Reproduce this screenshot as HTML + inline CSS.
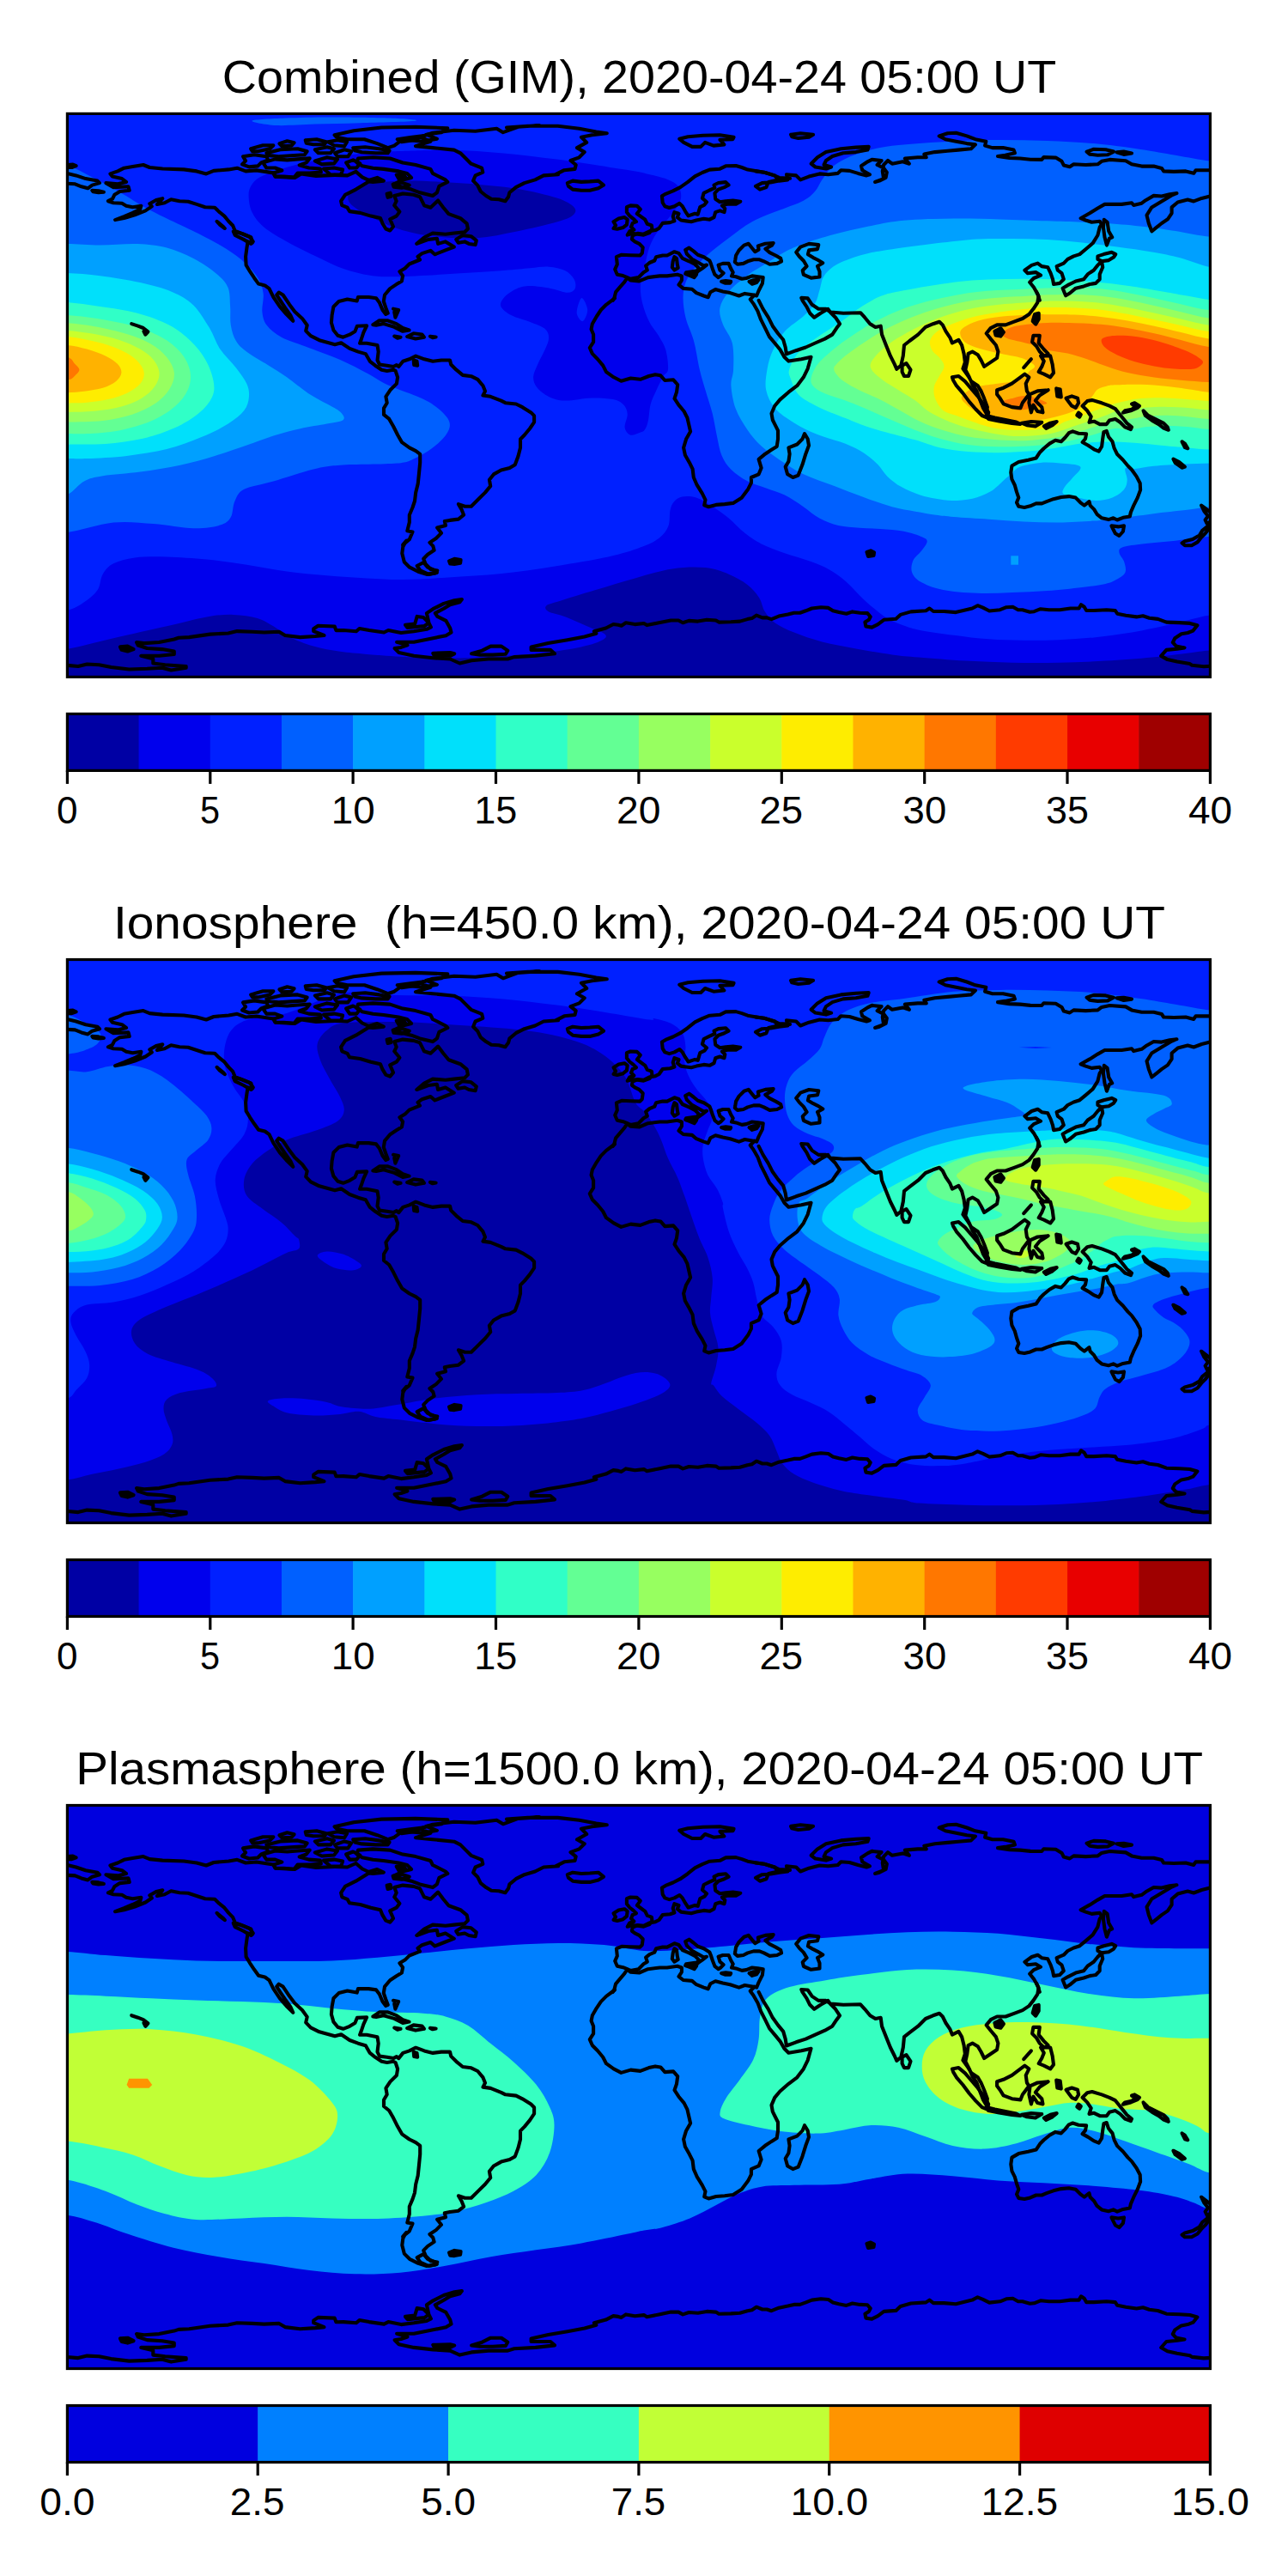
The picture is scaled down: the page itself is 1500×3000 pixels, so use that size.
<!DOCTYPE html>
<html><head><meta charset="utf-8"><title>TEC maps</title>
<style>
html,body{margin:0;padding:0;background:#fff;}
body{width:1500px;height:3000px;overflow:hidden;font-family:"Liberation Sans",sans-serif;}
svg{display:block;}
text{font-family:"Liberation Sans",sans-serif;fill:#000;}
.cl{fill:none;stroke:#000;stroke-width:4.1;stroke-linejoin:round;stroke-linecap:round;}
.fr{fill:none;stroke:#000;stroke-width:3.2;stroke-linejoin:miter;}
.tk{stroke:#000;stroke-width:3.2;}
</style></head><body>
<svg width="1500" height="3000" viewBox="0 0 1500 3000">
<rect width="1500" height="3000" fill="#fff"/>
<defs>
<clipPath id="mc"><rect x="78.4" y="0" width="1331.0" height="656.0"/></clipPath>
<g id="coast" class="cl">

<path d="M390.0 71.5 L368.1 72.5 L350.7 70.0 L343.3 74.5 L320.9 73.2 L318.4 69.0 L298.6 66.0 L286.1 67.0 L276.2 63.3 L266.3 65.0 L248.9 66.5 L240.2 70.0 L229.0 67.0 L214.1 65.0 L189.3 64.1 L174.3 62.6 L166.9 59.6 L154.5 61.6 L144.5 63.3 L137.1 67.0 L128.4 70.0 L130.9 73.2 L142.0 75.7 L147.0 79.5 L137.1 81.9 L123.4 80.7 L132.1 85.7 L149.5 84.9 L150.7 89.4 L139.6 90.6 L133.4 94.4 L130.9 99.3 L125.9 101.8 L132.1 103.8 L142.0 104.3 L147.0 107.3 L154.5 108.8 L164.4 107.3 L163.2 111.3 L154.5 115.5 L144.5 119.7 L134.1 123.7 L144.5 121.7 L157.0 118.0 L169.4 113.0 L176.8 108.0 L174.3 104.8 L181.8 100.6 L189.3 98.8 L183.0 105.5 L191.7 103.8 L199.2 99.8 L209.1 101.8 L219.1 102.3 L229.0 105.5 L238.9 108.8 L250.1 109.3 L255.1 114.2 L261.3 119.2 L266.3 125.4 L271.2 130.4 L273.7 136.6 L283.7 140.3 L292.4 144.1 L293.6 150.3 L288.6 149.0 L287.4 156.5 L286.1 166.4 L286.6 176.4 L291.1 183.8 L296.1 191.3 L301.1 198.2 L308.5 200.0 L313.5 203.7 L318.4 213.6 L325.9 224.8 L333.4 233.5 L341.3 241.4 L338.3 234.7 L332.1 226.0 L327.1 218.6 L322.2 211.1 L324.7 208.2 L329.6 211.1 L337.1 222.3 L343.3 230.5 L352.0 238.5 L357.7 246.4 L356.2 252.9 L361.9 258.8 L371.9 263.8 L390.0 268.8 L397.3 266.8 L407.2 273.5 L417.1 277.2 L425.8 279.7 L430.8 288.4 L437.0 293.3 L444.5 298.3 L450.7 299.5 L458.1 298.3 L460.6 299.5 L463.1 307.0 L461.9 314.5 L454.4 321.9 L449.4 329.4 L450.7 336.8 L447.0 343.0 L447.0 350.5 L453.2 355.5 L458.1 364.1 L463.1 374.1 L468.1 382.8 L476.8 389.0 L484.2 392.7 L489.2 396.4 L489.2 406.4 L488.0 418.8 L486.7 431.2 L484.2 441.2 L483.0 451.1 L480.5 458.6 L476.8 467.3 L476.8 475.9 L474.3 485.9 L480.5 487.1 L476.8 495.8 L469.3 502.0 L473.3 497.3 L470.1 502.7"/>
<path d="M78.4 59.6 L84.9 59.1 L88.6 60.8 L83.7 62.6 L78.4 62.6"/>
<path d="M78.4 69.5 L88.6 72.0 L99.8 75.7 L113.5 78.2 L116.0 80.7 L107.3 83.2 L102.3 86.9 L94.8 84.9 L87.4 81.9 L78.4 81.4"/>
<path d="M107.3 89.4 L114.7 89.9 L120.9 91.4 L114.7 91.9 L108.5 90.9 Z" style="fill:#000"/>
<path d="M252.6 125.4 L260.1 131.6 L261.8 133.6 L255.8 129.1 Z" style="fill:#000"/>
<path d="M271.7 137.1 L281.2 139.6 L291.1 143.6 L294.8 149.0 L292.4 151.5 L283.7 146.5 L273.7 141.6 Z"/>
<path d="M153.2 244.7 L160.7 247.2 L166.9 249.6 L172.4 253.9 L169.4 257.3 L167.4 253.4"/>
<path d="M389.9 71.5 L404.5 72.0 L414.5 67.5 L421.9 74.0 L429.4 77.5 L439.3 74.5 L446.8 78.2 L434.3 79.5 L429.4 79.0 L414.5 88.2 L402.0 94.4 L397.1 101.8 L398.3 106.8 L404.5 109.3 L407.0 113.7 L419.4 115.5 L431.9 119.2 L443.0 121.7 L445.5 127.9 L449.3 134.1 L454.2 136.1 L458.0 131.6 L454.2 122.9 L461.7 119.2 L465.4 114.2 L459.2 106.8 L461.7 101.8 L459.2 95.6 L469.1 93.1 L481.6 94.4 L489.0 96.8 L494.0 106.8 L501.4 109.3 L510.1 101.1 L516.3 109.3 L522.5 116.7 L536.2 121.7 L543.7 127.9 L544.9 134.1 L541.2 137.8 L528.8 139.1 L518.8 140.3 L503.9 139.1 L494.0 144.1 L485.3 151.5 L498.9 146.5 L508.9 145.3 L510.1 151.5 L518.8 149.0 L528.8 155.2 L518.8 159.0 L506.4 163.9 L501.4 159.5 L491.5 162.7 L486.5 166.4 L489.0 170.1 L476.6 175.1 L471.6 180.1 L465.4 183.8 L469.1 188.8 L467.9 195.0 L461.7 198.7 L454.2 203.7 L448.0 211.1 L446.8 218.6 L449.3 226.0 L451.7 232.3 L449.3 233.5 L445.5 228.5 L441.8 219.8 L438.1 214.9 L429.4 213.6 L417.0 213.6 L415.7 218.1 L404.5 216.1 L394.6 218.6 L388.4 224.8 L386.6 234.7 L385.9 243.4 L388.4 252.1 L393.4 258.3 L399.6 260.3 L407.2 257.3 L413.4 253.6 L415.9 247.4 L427.1 246.9 L423.4 254.8 L420.9 262.3 L419.1 267.3 L427.1 267.3 L439.5 269.7 L440.7 277.2 L439.5 287.1 L442.0 292.1 L450.7 293.3 L458.1 294.6 L461.9 292.6 L464.3 294.6 L469.3 288.4 L476.8 285.9 L484.2 282.2 L494.2 285.9 L504.1 288.4 L514.0 287.1 L524.0 287.1 L525.2 292.1 L531.4 298.3 L538.9 304.5 L548.8 305.8 L556.3 309.5 L562.5 316.9 L565.0 323.2 L562.5 328.1 L571.2 329.4 L583.6 334.3 L588.6 336.8 L601.0 338.1 L608.4 341.8 L618.4 348.0 L622.1 351.7 L622.1 359.2 L617.1 366.6 L610.9 374.1 L606.0 379.1 L606.0 389.0 L603.5 398.9 L599.8 408.9 L593.5 412.6 L583.6 415.1 L574.9 420.0 L569.9 426.3 L571.2 433.7 L565.0 441.2 L557.5 448.6 L548.8 457.3 L541.4 457.3 L533.9 454.8 L537.6 461.0 L540.1 467.3 L533.9 472.2 L524.0 473.5 L517.8 474.7 L519.0 479.7 L509.1 482.2 L514.0 488.4 L507.8 494.6 L500.4 499.5 L504.3 503.5 L505.6 508.4 L498.1 513.4 L493.2 518.4 L495.7 524.6 L501.9 530.8 L509.3 532.0 L506.8 535.0 L496.9 536.5 L487.0 533.3 L477.0 528.3 L470.8 522.1 L468.3 512.2 L469.6 502.2"/>
<path d="M531.2 146.5 L538.7 141.6 L548.6 142.8 L554.8 147.8 L553.6 152.7 L546.1 151.5 L541.2 149.0 L533.7 150.3 Z"/>
<path d="M434.3 245.9 L441.8 240.9 L451.7 240.9 L461.7 244.7 L469.1 249.6 L476.6 252.1 L469.1 253.4 L459.2 248.4 L446.8 244.7 L438.1 246.4 Z"/>
<path d="M474.1 259.6 L481.6 255.9 L491.5 257.1 L494.0 260.3 L484.0 262.1 Z"/>
<path d="M459.2 259.1 L466.6 260.3 L462.9 261.3 Z" style="fill:#000"/>
<path d="M500.9 259.3 L507.6 260.1 L503.9 260.8 Z" style="fill:#000"/>
<path d="M458.0 227.3 L464.2 228.5 L460.4 237.2 L459.2 231.0"/>
<path d="M389.6 24.8 L412.0 19.8 L444.3 16.1 L484.0 15.4 L521.3 16.8 L513.9 21.8 L496.5 24.3 L508.9 29.3 L491.5 32.3 L469.1 29.8 L459.2 37.2 L451.7 39.7 L439.3 34.7 L424.4 29.8 L404.5 29.8 L392.1 27.3 Z"/>
<path d="M417.0 52.1 L434.3 50.9 L454.2 52.1 L469.1 57.1 L484.0 59.6 L501.4 64.5 L503.9 69.5 L518.8 77.0 L521.3 79.5 L511.4 84.4 L508.9 91.9 L503.9 95.6 L489.0 91.9 L479.1 88.2 L469.1 85.7 L459.2 81.9 L469.1 77.0 L479.1 74.5 L474.1 69.5 L464.2 67.0 L446.8 64.5 L434.3 63.3 L421.9 60.8 L415.7 57.1 Z"/>
<path d="M706.8 22.8 L694.3 21.1 L674.5 17.3 L649.6 14.4 L614.8 14.4 L590.0 16.1 L628.1 13.6 L603.3 15.4 L585.9 21.8 L578.4 17.3 L553.6 20.3 L528.8 19.3 L503.9 22.3 L489.0 27.3 L501.4 32.3 L484.0 37.7 L503.9 39.7 L528.8 42.2 L536.2 45.9 L543.7 53.4 L548.6 58.3 L561.1 63.3 L562.3 68.3 L553.6 72.0 L551.1 78.2 L556.1 83.2 L559.8 90.6 L566.0 95.6 L572.2 99.3 L580.9 99.8 L588.4 101.8 L592.1 96.8 L593.4 91.9 L600.8 85.7 L610.7 80.7 L623.2 77.0 L633.1 72.0 L650.0 70.8 L647.1 70.8 L657.1 65.8 L669.5 64.5 L670.7 59.6 L664.5 54.6 L674.5 50.9 L680.7 44.7 L672.0 39.7 L683.2 33.5 L677.0 27.3 L689.4 24.8 Z"/>
<path d="M660.8 80.7 L667.0 78.2 L677.0 79.5 L686.9 79.0 L696.8 78.2 L703.0 83.2 L696.8 86.9 L686.9 89.4 L677.0 89.4 L667.0 88.2 L662.0 84.4 Z"/>
<path d="M791.2 29.3 L801.2 26.8 L818.6 25.3 L838.4 24.8 L854.6 27.3 L853.4 29.8 L838.4 30.3 L843.4 36.0 L831.0 37.2 L821.1 33.5 L816.1 38.5 L806.1 38.5 L796.2 33.5 Z"/>
<path d="M920.0 75.4 L907.5 74.6 L901.6 72.0 L891.3 68.6 L881.1 66.9 L870.8 65.2 L864.0 62.6 L857.1 60.6 L845.2 60.9 L838.4 64.3 L826.4 65.2 L817.9 68.6 L809.3 72.9 L800.8 79.7 L792.2 85.7 L783.7 90.0 L775.2 93.4 L770.9 95.9 L771.7 103.6 L774.3 107.9 L779.4 109.6 L785.4 107.9 L791.4 104.5 L794.8 107.9 L798.2 113.9 L801.6 119.0 L809.3 116.4 L812.7 117.3 L815.3 108.7 L820.4 106.2 L823.0 102.8 L817.9 98.5 L819.6 92.5 L826.4 89.1 L832.4 86.5 L831.5 83.1 L836.6 80.6 L845.2 79.7 L848.6 83.1 L843.5 85.7 L836.6 88.2 L832.4 92.5 L833.2 99.3 L838.4 102.8 L845.2 101.9 L853.7 101.1 L862.3 102.3 L857.1 105.3 L846.9 105.3 L840.9 107.0 L844.3 110.5 L843.5 114.7 L838.4 113.0 L833.2 114.7 L831.5 120.7 L826.4 123.3 L819.6 122.4 L811.0 124.1 L805.0 125.8 L799.1 125.0 L793.1 124.1 L788.8 120.7 L790.5 116.4 L785.4 114.7 L783.7 119.8 L785.4 125.0 L780.3 126.7 L771.7 127.5 L767.5 133.5 L763.2 135.7 L756.4 136.9 L749.5 140.3 L742.7 139.5 L736.7 142.0 L735.9 146.3 L739.3 148.9 L744.4 151.4 L748.7 155.7 L747.8 162.5 L745.3 165.1 L734.2 164.8 L723.9 164.3 L717.9 166.8 L718.8 175.4 L716.2 181.3 L718.8 187.3 L725.6 188.7 L729.9 190.4 L734.2 192.4 L743.6 190.7 L749.5 184.8 L753.8 182.2 L752.1 177.1 L756.4 173.6 L762.3 171.1 L764.1 166.8 L771.7 165.1 L776.9 165.1 L785.4 160.8 L790.5 162.5 L794.8 168.5 L802.5 171.9 L809.3 175.4 L813.6 179.6 L811.9 184.2 L817.9 180.1 L823.0 176.2 L819.6 177.1 L813.6 173.6 L805.9 169.4 L799.9 163.4 L798.2 158.6 L802.5 156.2 L807.6 160.0 L812.7 164.3 L819.6 166.8 L826.4 171.1 L827.8 174.5 L829.8 180.5 L832.4 187.3 L836.6 190.7 L839.2 189.0 L842.6 185.6 L838.4 182.2 L836.6 176.2 L841.8 174.5 L848.6 174.5 L851.2 180.5 L853.7 184.8 L852.0 189.0 L857.1 189.9 L864.0 192.4 L869.1 191.6 L875.9 189.0 L882.8 189.9 L888.7 190.7 L887.9 197.6 L883.6 206.1 L881.1 212.1 L877.6 211.2 L867.4 209.5 L860.6 212.1 L850.3 208.7 L841.8 207.0 L833.2 204.7 L827.3 207.8 L824.7 213.8 L819.6 212.1 L811.0 208.7 L805.9 204.4 L795.7 203.5 L790.5 199.3 L793.9 194.1 L793.9 189.0 L788.8 187.3 L776.9 189.0 L768.3 189.0 L754.7 190.7 L744.4 195.0 L734.2 194.1 L730.4 191.1 L727.3 195.9 L722.2 201.8 L717.1 207.8 L715.4 214.6 L713.7 217.5"/>
<path d="M729.9 108.7 L734.2 107.0 L741.8 107.4 L745.8 111.3 L741.8 116.4 L745.3 119.0 L751.2 123.3 L753.8 128.4 L758.9 130.1 L759.4 134.4 L756.4 138.6 L749.5 141.2 L742.7 140.3 L736.7 139.5 L730.7 141.2 L733.3 136.9 L738.4 135.2 L735.0 131.8 L736.7 127.5 L741.0 125.8 L737.6 122.4 L733.3 119.0 L729.9 114.7 Z"/>
<path d="M714.5 125.8 L720.5 122.1 L727.3 120.7 L730.7 123.3 L729.9 129.2 L725.6 132.7 L718.8 134.4 L714.5 133.5 L717.1 130.1 Z"/>
<path d="M799.1 184.8 L805.9 183.9 L811.9 183.0 L811.0 187.3 L808.5 190.7 L802.5 188.2 L798.2 186.5 Z" style="fill:#000"/>
<path d="M785.4 166.8 L788.0 168.5 L788.8 175.4 L789.7 179.6 L785.4 182.2 L782.8 178.8 L783.7 171.9 Z"/>
<path d="M840.1 195.5 L845.2 194.7 L851.2 195.5 L850.3 197.2 L844.3 197.2 Z" style="fill:#000"/>
<path d="M872.5 195.5 L877.6 193.8 L883.6 193.3 L881.1 196.7 L875.9 198.4 Z" style="fill:#000"/>
<path d="M856.3 170.2 L857.1 165.1 L860.6 159.1 L866.5 153.2 L871.7 151.4 L875.9 156.6 L879.3 160.8 L883.6 158.3 L882.8 154.0 L891.3 151.4 L900.7 150.6 L899.0 153.2 L891.3 157.4 L896.4 161.7 L903.3 165.1 L909.2 168.5 L910.1 171.9 L905.0 174.5 L896.4 175.4 L889.6 171.9 L884.5 169.9 L877.6 169.9 L870.8 171.9 L865.7 174.5 L858.9 175.4 L855.8 172.8 Z"/>
<path d="M921.0 24.3 L932.2 22.8 L947.1 24.3 L942.1 27.3 L929.7 28.5 L922.2 26.8 Z"/>
<path d="M944.6 58.3 L952.0 50.9 L962.0 44.7 L979.4 40.9 L996.8 39.2 L1011.7 38.5 L1010.4 42.2 L996.8 44.7 L981.9 45.9 L969.4 49.6 L962.0 54.6 L959.5 59.6 L968.2 62.1 L962.0 64.1 L949.6 62.1 Z"/>
<path d="M880.0 67.0 L889.9 68.3 L902.4 72.0 L906.1 77.0 L894.9 79.5 L892.4 85.7 L885.0 88.2 L880.0 84.4 L887.5 80.7 L897.4 80.0 L907.3 78.2 L917.3 77.0 L916.0 70.8 L927.2 72.0 L932.2 77.0 L942.1 73.2 L954.5 70.0 L964.5 70.8 L975.7 69.5 L979.4 65.8 L989.3 66.5 L999.3 69.5 L1009.2 72.0 L1012.9 70.8 L1004.2 65.8 L1003.0 60.8 L1010.4 55.9 L1015.4 53.4 L1026.6 54.6 L1021.6 59.6 L1029.1 63.3 L1032.8 68.3 L1031.6 74.5 L1024.1 78.2 L1019.1 79.5 L1029.1 75.7 L1027.8 67.0 L1029.1 59.6 L1034.0 54.6 L1039.0 58.3 L1051.4 55.9 L1058.9 58.3 L1053.9 52.1 L1068.8 50.9 L1078.8 50.9 L1076.3 47.2 L1088.7 44.7 L1103.6 43.4 L1116.0 42.2 L1130.9 40.9 L1135.9 36.0 L1126.0 34.7 L1113.5 32.3 L1101.1 29.8 L1093.7 26.0 L1103.6 22.8 L1113.5 22.3 L1126.0 26.0 L1135.9 29.8 L1148.3 32.3 L1147.1 37.2 L1155.8 39.7 L1168.2 39.7 L1180.6 42.2 L1181.9 45.9 L1170.7 48.4 L1162.0 49.6 L1175.7 51.6 L1188.1 52.1 L1200.0 53.4 L1213.2 53.5 L1215.5 50.7 L1229.5 51.2 L1236.5 55.4 L1238.8 60.0 L1245.8 61.9 L1250.4 58.9 L1264.4 59.6 L1278.4 58.9 L1283.0 55.4 L1292.4 53.5 L1311.0 54.9 L1318.0 58.9 L1329.6 61.2 L1343.6 61.2 L1352.9 63.5 L1355.2 67.0 L1366.9 67.5 L1380.9 67.0 L1390.2 69.4 L1392.5 65.9 L1409.3 65.9"/>
<path d="M1265.6 44.2 L1273.7 41.4 L1287.7 41.9 L1297.0 44.2 L1290.0 47.9 L1278.4 48.4 L1269.1 47.2 Z"/>
<path d="M1300.5 44.9 L1308.7 44.2 L1318.0 46.1 L1308.7 47.5 Z" style="fill:#000"/>
<path d="M927.2 161.4 L932.2 155.2 L942.1 151.5 L953.3 152.7 L952.0 157.7 L942.1 159.0 L940.9 163.9 L947.1 167.7 L952.0 170.1 L958.3 173.9 L952.0 177.6 L954.5 183.8 L954.5 190.0 L944.6 191.3 L935.9 187.5 L934.7 182.6 L939.6 177.6 L935.9 171.4 L930.9 166.4 Z"/>
<path d="M1409.3 96.1 L1399.5 98.5 L1390.2 102.0 L1383.2 100.1 L1371.6 103.1 L1364.6 109.0 L1364.6 115.9 L1359.9 122.9 L1352.9 127.6 L1347.1 132.3 L1341.3 136.9 L1337.8 127.6 L1335.5 118.3 L1341.3 109.0 L1352.9 102.0 L1364.6 95.0 L1370.4 92.7 L1362.2 93.8 L1352.9 96.1 L1343.6 95.5 L1334.3 100.8 L1329.6 104.3 L1320.3 106.6 L1318.0 103.8 L1306.3 105.5 L1286.5 105.5 L1278.4 110.1 L1269.1 115.9 L1258.6 121.8 L1264.4 124.1 L1271.4 126.4 L1280.7 125.3 L1283.0 128.8 L1280.7 132.3 L1278.4 141.6 L1272.6 150.9 L1264.4 157.9 L1257.4 163.7 L1250.4 166.0 L1243.4 169.5 L1238.8 174.2 L1230.6 177.7 L1231.8 182.3 L1236.5 185.8 L1238.8 192.8 L1234.1 197.5 L1227.1 198.6 L1226.0 192.8 L1223.6 185.8 L1220.2 178.8 L1213.2 177.7 L1208.5 174.2 L1201.5 176.5 L1193.4 182.3 L1196.9 185.8 L1206.2 184.7 L1212.0 188.2 L1203.9 191.6 L1199.2 196.3 L1203.9 202.1 L1208.5 210.3 L1210.8 217.3"/>
<path d="M1285.8 123.4 L1289.6 126.4 L1291.2 136.9 L1295.2 143.9 L1291.9 145.3 L1288.9 153.2 L1286.5 143.9 L1284.9 132.3 Z"/>
<path d="M1278.4 166.0 L1285.4 163.7 L1294.7 161.4 L1299.3 163.7 L1297.0 167.2 L1291.2 170.7 L1283.0 171.8 L1278.4 169.5 Z"/>
<path d="M1283.0 171.8 L1284.2 178.8 L1280.7 187.0 L1280.7 192.8 L1276.1 197.5 L1269.1 198.6 L1262.1 201.0 L1252.8 203.3 L1245.8 209.1 L1241.1 211.9 L1237.6 203.3 L1243.4 199.8 L1252.8 195.1 L1262.1 192.8 L1266.7 187.0 L1273.7 182.3 L1278.4 176.5 Z"/>
<path d="M1205.0 233.6 L1209.7 232.4 L1209.7 239.4 L1206.2 245.2 L1202.7 241.7 Z" style="fill:#000"/>
<path d="M1158.4 253.4 L1165.4 249.9 L1168.9 254.5 L1165.4 259.2 L1159.6 258.0 Z" style="fill:#000"/>
<path d="M481.7 287.1 L485.5 288.4 L486.2 293.3 L482.2 292.6 Z" style="fill:#000"/>
<path d="M485.7 526.6 L493.2 522.6 L498.1 528.3 L506.8 532.0 L508.8 534.5 L499.4 536.5 L489.4 532.0 Z"/>
<path d="M523.0 520.9 L529.2 518.4 L536.6 519.6 L536.1 523.3 L529.2 524.6 L524.2 524.1 Z" style="fill:#000"/>
<path d="M549.1 628.9 L561.5 625.2 L571.4 620.2 L583.9 620.2 L591.3 625.2 L588.8 629.4 L573.9 630.2 L559.0 630.2 Z"/>
<path d="M504.3 628.4 L524.2 627.7 L529.2 628.9 L524.2 631.4 L505.6 630.9 Z"/>
<path d="M715.9 215.0 L706.0 222.4 L699.8 228.6 L694.8 236.1 L689.8 244.8 L688.6 251.0 L691.1 257.2 L691.1 265.9 L686.8 272.6 L689.8 279.5 L696.0 285.8 L702.2 293.2 L706.0 300.7 L714.7 306.9 L723.4 311.4 L734.5 308.1 L745.7 309.4 L755.7 305.6 L763.1 303.9 L769.3 304.9 L774.3 310.6 L784.2 309.9 L789.2 315.6 L788.0 324.3 L785.5 331.7 L790.4 339.2 L796.6 346.6 L800.4 354.1 L802.1 361.5 L804.1 370.2 L799.1 378.9 L796.1 388.9 L797.9 397.6 L802.9 406.3 L806.6 413.7 L807.8 423.6 L811.6 432.3 L817.8 442.3 L821.5 449.7 L820.2 455.9 L825.2 457.9 L833.9 455.5 L843.9 454.7 L853.8 453.5 L863.7 447.3 L871.2 437.3 L874.9 429.9 L874.9 423.6 L883.6 419.9 L886.6 412.5 L883.6 402.5 L891.1 396.3 L898.5 391.4 L904.7 387.6 L906.0 378.9 L906.0 369.0 L902.2 361.5 L899.8 356.6 L898.5 349.1 L902.2 340.4 L908.4 333.0 L918.4 324.3 L928.3 316.8 L935.8 306.9 L940.7 296.9 L944.5 283.3 L933.3 285.8 L918.4 288.2 L913.4 283.3 L908.4 274.6 L902.2 267.1 L896.0 259.7 L891.1 249.7 L886.1 239.8 L882.4 229.9 L877.4 221.2 L873.7 216.2 L878.6 211.2"/>
<path d="M937.0 372.7 L940.7 378.9 L942.0 386.4 L938.3 396.3 L934.5 408.7 L929.6 421.2 L923.4 423.6 L917.1 419.9 L914.7 411.2 L918.4 405.0 L919.6 396.3 L918.4 388.9 L928.3 385.1 L934.5 378.9 Z"/>
<path d="M883.6 217.4 L888.6 227.4 L894.8 237.3 L899.8 247.3 L906.0 255.9 L912.2 263.4 L914.7 272.1 L915.9 280.0 L927.1 275.8 L938.3 272.1 L949.4 267.1 L960.6 262.2 L969.3 257.2 L974.3 249.7 L978.0 244.8 L973.0 237.3 L966.8 231.1 L964.3 227.4 L955.7 232.3 L948.2 237.3 L943.2 232.3 L939.5 224.9 L934.5 217.4 L933.3 214.5 L940.7 215.0 L945.7 222.4 L953.2 227.4 L961.9 227.4 L967.3 231.1 L982.2 232.3 L1002.1 231.8 L1007.1 237.3 L1013.3 244.8 L1019.5 248.5 L1025.7 247.3 L1027.0 257.2 L1031.9 269.6 L1036.9 282.0 L1041.9 292.0 L1044.3 297.4 L1049.3 293.2 L1051.8 282.0 L1053.0 269.6 L1059.3 264.6 L1069.2 257.2 L1077.9 248.5 L1086.6 244.8 L1094.0 242.3 L1097.8 246.0 L1101.5 253.5 L1106.5 260.9 L1108.9 267.1 L1116.4 263.4 L1120.1 269.6 L1122.6 279.5 L1123.9 289.5 L1121.4 296.9 L1127.6 305.6 L1131.3 311.8 L1138.8 316.8 L1142.5 323.0 L1146.2 331.7 L1149.9 341.7 L1148.7 349.1 L1145.0 342.9 L1141.2 333.0 L1137.5 323.0 L1132.5 315.6 L1128.8 306.9 L1124.3 298.2 L1126.3 289.5 L1127.6 279.5 L1132.5 277.1 L1138.8 280.8 L1142.5 287.0 L1146.2 294.5 L1153.7 289.5 L1161.1 284.5 L1162.4 277.1 L1159.9 269.6 L1153.7 262.2 L1148.7 255.9 L1153.7 249.7 L1161.1 246.0 L1171.1 246.0 L1181.0 242.3 L1190.9 238.6 L1198.4 233.6 L1203.4 227.4 L1208.3 219.9 L1209.6 212.5 L1207.1 207.5"/>
<path d="M1050.6 293.2 L1055.5 290.7 L1060.5 298.2 L1058.0 305.6 L1053.0 305.6 L1050.6 300.7 Z"/>
<path d="M1108.9 306.9 L1116.4 305.6 L1123.9 311.8 L1131.3 320.5 L1138.8 329.2 L1146.2 339.2 L1151.2 347.9 L1149.9 354.1 L1143.7 351.6 L1136.3 344.1 L1128.8 335.5 L1121.4 325.5 L1113.9 316.8 L1110.2 310.6 Z"/>
<path d="M1148.7 351.6 L1158.6 354.1 L1171.1 356.6 L1183.5 359.1 L1188.4 361.5 L1178.5 360.5 L1163.6 358.1 L1151.2 355.6 Z"/>
<path d="M1189.7 360.3 L1200.9 358.6 L1213.3 359.5 L1205.8 364.0 L1195.9 362.8 Z"/>
<path d="M1215.8 364.0 L1223.2 360.3 L1230.7 358.6 L1225.7 362.8 L1218.3 366.5 Z" style="fill:#000"/>
<path d="M1161.1 321.8 L1168.6 319.3 L1178.5 314.3 L1188.4 306.9 L1193.4 303.2 L1198.4 306.9 L1194.7 314.3 L1195.9 323.0 L1198.4 326.8 L1190.9 336.7 L1188.4 342.9 L1178.5 341.7 L1168.6 337.9 L1164.8 331.7 L1161.1 326.8 Z"/>
<path d="M1220.7 321.8 L1208.3 323.0 L1199.6 326.8 L1198.4 336.7 L1200.9 347.9 L1203.4 339.2 L1208.3 346.6 L1214.5 347.9 L1213.3 341.7 L1205.8 334.2 L1210.8 328.0 L1220.7 321.8"/>
<path d="M1203.4 258.4 L1210.8 258.4 L1209.6 267.1 L1215.8 274.6 L1220.7 279.5 L1215.8 282.0 L1210.8 277.1 L1207.1 270.9 L1202.1 265.9 Z"/>
<path d="M1212.0 282.0 L1223.2 282.0 L1225.7 292.0 L1227.0 301.9 L1223.2 306.9 L1215.8 303.2 L1209.6 300.7 L1213.3 294.5 L1215.8 288.2 Z"/>
<path d="M1192.2 295.7 L1200.9 285.8"/>
<path d="M1178.4 410.1 L1186.3 405.6 L1197.5 403.3 L1206.6 401.1 L1211.1 394.3 L1215.6 389.8 L1222.3 384.2 L1229.1 380.4 L1235.8 381.9 L1240.3 377.4 L1244.8 371.8 L1249.3 370.0 L1256.1 372.3 L1265.1 372.9 L1264.0 378.6 L1260.6 382.6 L1267.3 386.4 L1274.1 390.9 L1279.7 393.2 L1283.1 387.6 L1284.2 378.6 L1285.4 370.7 L1288.7 369.5 L1291.0 376.3 L1295.5 381.9 L1297.7 389.8 L1301.1 396.6 L1307.9 403.3 L1313.5 410.1 L1318.0 414.6 L1323.6 422.5 L1327.7 430.3 L1328.1 438.2 L1324.8 447.2 L1320.3 456.2 L1316.9 464.1 L1315.8 469.1 L1307.9 470.4 L1301.1 473.1 L1296.6 470.9 L1291.0 472.7 L1283.1 470.9 L1277.5 466.4 L1274.1 460.7 L1269.6 456.2 L1268.5 451.7 L1262.8 456.2 L1258.3 452.9 L1252.7 447.2 L1244.8 445.7 L1235.8 446.6 L1226.8 448.8 L1218.9 451.7 L1213.3 454.0 L1206.6 454.0 L1199.8 456.9 L1193.0 458.5 L1186.3 457.4 L1184.0 452.9 L1186.3 447.2 L1184.0 440.5 L1181.8 432.6 L1178.4 425.8 L1177.3 418.0 Z"/>
<path d="M1294.4 479.9 L1302.2 481.0 L1309.0 479.9 L1307.9 486.6 L1303.4 491.6 L1298.9 488.9 L1296.6 484.4 Z"/>
<path d="M1260.6 340.3 L1266.2 334.7 L1271.8 333.5 L1283.1 336.9 L1292.1 340.3 L1298.9 343.7 L1303.4 349.3 L1307.9 354.9 L1312.4 360.5 L1318.0 365.0 L1316.9 367.7 L1310.1 365.0 L1304.5 359.4 L1298.9 355.6 L1292.1 357.2 L1288.7 361.7 L1280.9 361.7 L1274.1 358.3 L1268.5 359.4 L1270.7 352.7 L1266.2 345.9 Z"/>
<path d="M1241.5 331.3 L1248.2 329.0 L1255.0 331.3 L1256.1 336.9 L1252.7 342.5 L1248.2 340.3 L1244.8 335.8 Z"/>
<path d="M1307.9 348.2 L1316.9 345.9 L1324.8 342.5 L1327.0 340.3 L1321.4 336.9 L1318.0 338.0 L1322.5 341.4 L1318.0 344.3 L1310.1 345.9 Z" style="fill:#000"/>
<path d="M1331.5 345.9 L1337.1 351.5 L1346.1 356.0 L1355.2 360.5 L1359.7 365.0 L1360.8 368.4 L1355.2 366.2 L1349.5 361.7 L1341.6 357.2 L1333.8 351.5 Z"/>
<path d="M1376.5 381.9 L1379.9 384.2 L1383.3 389.8 L1379.9 388.7 Z" style="fill:#000"/>
<path d="M1366.4 402.2 L1373.2 405.6 L1379.9 411.2 L1376.5 412.3 L1368.7 406.7 Z" style="fill:#000"/>
<path d="M1230.2 320.0 L1234.7 321.1 L1235.8 330.1 L1231.3 329.0 Z" style="fill:#000"/>
<path d="M1256.1 348.2 L1258.8 350.4 L1257.2 353.3 L1254.3 351.1 Z" style="fill:#000"/>
<path d="M1399.1 456.2 L1403.6 459.6 L1409.4 464.1 L1411.4 469.7 L1409.4 475.4 L1405.8 477.6 L1403.6 473.1 L1406.9 468.6 L1402.4 463.0 Z"/>
<path d="M1410.3 477.6 L1405.8 481.0 L1400.2 485.5 L1396.8 491.1 L1388.9 495.6 L1379.9 497.9 L1376.5 500.1 L1379.9 502.8 L1387.8 502.8 L1394.6 499.0 L1399.1 493.4 L1403.6 488.9 L1408.1 483.3 Z"/>
<path d="M66.5 642.5 L78.4 642.5 L91.0 643.6 L101.4 641.1 L115.4 641.8 L129.4 644.6 L150.4 647.1 L171.3 646.4 L188.8 645.3 L199.3 648.1 L216.7 645.3 L216.7 643.6 L192.3 641.8 L178.3 640.1 L178.3 634.8 L164.3 631.4 L185.3 631.4 L202.8 629.6 L202.8 626.1 L188.8 623.7 L171.3 622.6 L160.8 619.1 L159.1 615.6 L167.8 616.7 L185.3 615.6 L202.8 612.1 L208.0 610.4 L220.2 609.7 L244.7 606.2 L265.7 605.1 L276.1 602.7 L293.6 603.4 L307.6 604.1 L325.0 603.4 L332.0 607.6 L349.5 609.7 L367.0 608.6 L377.5 607.6 L365.2 602.7 L365.2 599.9 L370.5 596.4 L389.7 597.1 L391.4 601.7 L400.0 601.6 L414.9 602.8 L418.6 599.6 L429.8 601.6 L447.2 604.1 L452.2 601.6 L467.1 604.6 L482.0 602.8 L496.9 600.4 L501.9 597.9 L499.4 592.9 L493.2 586.7 L485.7 585.5 L483.2 594.1 L472.0 595.4 L474.5 598.6 L494.4 596.6 L499.4 592.9 L496.9 581.7 L504.3 576.8 L516.8 570.5 L529.2 566.8 L537.9 565.6 L535.4 568.8 L524.2 571.8 L516.8 576.3 L506.8 581.7 L509.3 585.5 L519.3 590.4 L524.2 599.1 L525.5 604.1 L519.3 607.8 L506.8 610.3 L494.4 612.8 L482.0 615.3 L462.1 615.3 L474.5 619.0 L467.1 621.5 L459.6 622.7 L464.6 627.7 L482.0 631.4 L504.3 633.9 L524.2 635.1 L535.4 640.1 L549.1 636.9 L568.9 635.1 L591.3 635.1 L598.8 632.7 L623.6 631.4 L646.0 628.9 L641.0 624.5 L618.6 624.5 L618.6 621.0 L638.5 616.5 L660.9 612.8 L680.7 609.1 L694.4 605.3 L691.9 602.8 L705.6 599.1 L714.3 594.6 L720.0 595.4 L723.7 596.4 L728.9 592.9 L739.4 594.7 L749.9 593.6 L753.4 595.7 L767.3 592.9 L781.3 590.1 L790.1 590.1 L795.3 592.9 L802.3 590.5 L812.8 591.2 L823.2 589.4 L833.7 590.1 L837.2 592.2 L851.2 591.9 L861.7 591.2 L870.4 588.7 L875.7 587.7 L880.9 584.2 L887.9 587.0 L893.1 587.0 L898.4 588.7 L907.1 585.2 L917.6 583.1 L924.6 581.4 L931.6 581.4 L938.5 578.9 L945.5 576.1 L956.0 574.8 L964.7 575.5 L970.0 578.9 L977.0 580.7 L985.7 582.4 L992.7 580.0 L1001.4 581.4 L1010.2 581.7 L1013.7 585.9 L1011.9 589.4 L1007.4 592.2 L1008.4 597.1 L1015.4 598.2 L1022.4 594.7 L1029.4 589.4 L1043.4 588.4 L1048.6 583.5 L1060.8 580.0 L1078.3 578.9 L1082.5 576.1 L1087.0 579.6 L1099.3 579.6 L1113.2 580.7 L1132.3 576.1 L1138.5 572.8 L1144.7 575.3 L1152.2 579.1 L1164.6 577.8 L1172.0 574.8 L1179.5 574.3 L1185.7 577.8 L1190.7 577.8 L1199.4 580.3 L1204.3 579.8 L1211.8 576.8 L1221.7 577.8 L1234.2 577.8 L1246.6 576.1 L1256.5 576.1 L1259.0 571.8 L1262.7 574.3 L1265.2 578.6 L1273.9 578.6 L1288.8 577.8 L1298.8 578.6 L1301.2 582.3 L1311.2 584.3 L1323.6 586.0 L1331.1 584.8 L1338.5 587.3 L1348.4 588.5 L1358.4 592.2 L1373.3 592.7 L1385.7 593.5 L1394.4 595.9 L1389.4 602.2 L1383.2 604.6 L1375.8 605.9 L1368.3 610.9 L1365.8 615.8 L1369.6 620.0 L1379.5 622.0 L1370.8 623.3 L1358.4 624.5 L1352.2 631.5 L1359.6 635.7 L1370.8 638.2 L1385.7 640.7 L1388.2 642.4 L1401.9 643.9 L1413.0 643.2"/>
<path d="M139.9 620.9 L148.6 620.2 L155.6 623.7 L148.6 626.1 L141.6 624.4 Z" style="fill:#000"/>
<path d="M292.1 40.9 L306.2 36.8 L318.4 36.8 L314.3 40.9 L300.2 43.9 L294.1 43.9 Z"/>
<path d="M325.4 34.8 L334.5 31.8 L342.6 33.8 L339.5 37.2 L328.4 37.8 Z"/>
<path d="M310.3 45.9 L326.4 41.9 L346.6 40.9 L357.7 43.9 L354.7 47.9 L338.5 48.9 L324.4 49.9 L312.3 48.5 Z"/>
<path d="M355.7 30.8 L368.8 29.8 L379.9 32.8 L377.9 35.8 L364.8 35.8 L356.7 34.4 Z"/>
<path d="M366.8 41.9 L380.9 38.8 L389.0 40.9 L385.0 45.9 L370.8 45.9 Z"/>
<path d="M381.9 32.8 L393.0 30.8 L404.1 32.8 L401.1 37.8 L389.0 36.8 Z"/>
<path d="M390.0 45.9 L401.1 41.9 L409.2 43.9 L405.2 49.9 L393.0 49.9 Z"/>
<path d="M411.2 39.8 L425.3 38.8 L441.5 40.9 L453.6 42.9 L451.6 45.9 L437.5 45.9 L421.3 44.9 L413.2 42.9 Z"/>
<path d="M283.0 49.9 L296.1 47.9 L310.3 49.9 L312.3 54.0 L304.2 57.0 L300.2 61.0 L290.1 62.0 L282.0 59.0 L286.1 55.0 Z"/>
<path d="M306.2 57.0 L320.4 53.0 L334.5 54.0 L346.6 53.0 L360.7 52.0 L356.7 57.0 L348.6 60.0 L359.7 63.1 L372.9 64.1 L373.9 68.1 L360.7 69.1 L346.6 69.1 L342.6 74.2 L330.5 73.2 L320.4 73.2 L318.4 69.1 L328.4 66.1 L320.4 63.1 L310.3 63.1 Z"/>
<path d="M366.8 55.0 L380.9 50.9 L393.0 53.0 L389.0 58.0 L374.9 59.0 Z"/>
<path d="M376.9 64.1 L389.0 63.1 L399.1 65.1 L397.1 71.1 L385.0 71.1 Z"/>
<path d="M403.1 57.0 L411.2 54.0 L419.3 58.0 L415.2 63.1 L407.2 63.1 Z"/>
<path d="M462.7 29.8 L477.8 27.7 L494.0 25.7 L481.9 30.8 L467.7 32.8 Z"/>
<path d="M457.6 82.2 L467.7 80.2 L476.8 83.2 L467.7 86.3 L458.6 85.3 Z"/>
<path d="M461.7 71.1 L469.8 70.1 L472.8 75.2 L464.7 76.2 Z" style="fill:#000"/>
<path d="M450.6 93.3 L454.6 92.3 L455.6 96.4 L451.6 97.4 Z" style="fill:#000"/>
<path d="M1009.5 510.5 L1014.0 509.0 L1018.0 511.0 L1017.5 514.5 L1011.0 515.5 Z" style="fill:#000"/>
</g></defs>

<g transform="translate(0 132.4)">
<g clip-path="url(#mc)">
<rect x="78.4" y="0" width="1331.0" height="656.0" fill="#0020ff"/>
<path d="M78.4 60.7 C88.5 63.1 98.2 69.6 108.4 74.7 C118.7 79.8 128.8 85.2 139.9 91.5 C150.9 97.8 160.3 104.7 174.8 112.4 C189.3 120.1 213.2 130.8 226.8 137.6 C240.4 144.4 247.3 147.7 256.3 153.1 C265.4 158.6 273.9 164.0 281.2 170.2 C288.4 176.4 295.6 183.9 299.8 190.4 C304.1 196.9 305.7 202.3 306.6 209.0 C307.6 215.8 304.7 224.6 305.4 230.8 C306.1 237.0 307.0 241.4 310.7 246.3 C314.4 251.2 320.3 256.1 327.8 260.3 C335.3 264.4 344.3 266.7 355.7 271.1 C367.1 275.5 384.2 281.5 396.1 286.7 C408.0 291.8 417.8 297.3 427.1 302.2 C436.5 307.1 441.5 311.3 452.0 316.2 C462.5 321.0 480.6 326.8 490.1 331.1 C499.5 335.4 503.5 338.1 508.7 342.0 C513.9 345.9 518.6 350.6 521.1 354.4 C523.6 358.3 524.4 361.4 523.6 365.3 C522.8 369.2 520.0 373.6 516.5 377.7 C512.9 381.9 507.9 386.3 502.5 390.1 C497.0 394.0 490.6 398.2 483.9 401.0 C477.1 403.9 476.7 405.8 462.1 407.2 C447.5 408.6 412.3 408.2 396.1 409.3 C379.9 410.5 378.0 410.9 365.0 414.0 C352.1 417.1 331.9 424.1 318.4 428.0 C305.0 431.9 291.8 433.4 284.3 437.3 C276.8 441.2 276.0 445.8 273.4 451.3 C270.8 456.7 271.6 465.2 268.8 469.9 C265.9 474.6 263.6 477.0 256.3 479.2 C249.1 481.4 238.2 483.2 225.3 482.9 C212.3 482.7 194.2 478.8 178.7 477.7 C163.2 476.5 148.8 474.5 132.1 476.1 C115.4 477.8 92.4 485.7 78.4 487.6 C64.4 489.5 57.7 488.9 48.0 487.6 C38.3 486.3 25.5 515.2 20.0 479.6 C14.5 444.0 15.0 342.6 15.0 274.2 C15.0 205.7 14.5 104.3 20.0 68.7 C25.5 33.2 38.3 62.1 48.0 60.7 C57.7 59.4 68.3 58.4 78.4 60.7 Z" fill="#0060ff"/>
<path d="M1409.4 55.1 C1397.6 54.0 1382.5 50.6 1368.9 48.3 C1355.4 46.0 1344.0 43.8 1328.2 41.5 C1312.3 39.2 1291.9 36.4 1273.8 34.7 C1255.7 33.0 1237.6 32.1 1219.5 31.5 C1201.3 30.8 1183.2 30.6 1165.1 30.6 C1147.0 30.7 1131.8 30.9 1110.8 32.0 C1089.7 33.1 1057.7 34.9 1038.9 37.4 C1020.1 39.9 1009.5 43.1 998.2 46.9 C986.8 50.8 977.8 55.6 971.0 60.5 C964.2 65.5 961.0 71.9 957.4 76.8 C953.8 81.8 952.9 86.4 949.2 90.4 C945.6 94.5 942.4 97.7 935.7 101.3 C928.9 104.9 918.4 108.1 908.5 112.2 C898.5 116.2 885.8 120.3 875.9 125.8 C865.9 131.2 857.8 138.0 848.7 144.8 C839.6 151.6 829.2 159.3 821.5 166.5 C813.8 173.8 806.8 181.0 802.5 188.3 C798.2 195.5 796.4 201.8 795.7 210.0 C795.0 218.1 796.4 228.1 798.4 237.2 C800.5 246.2 805.2 254.3 807.9 264.3 C810.7 274.4 812.5 287.9 814.7 297.5 C817.0 307.1 819.0 313.3 821.5 321.9 C824.0 330.6 827.4 340.1 829.7 349.1 C831.9 358.2 833.3 368.1 835.1 376.3 C836.9 384.4 837.8 391.7 840.5 398.0 C843.3 404.4 846.4 409.4 851.4 414.3 C856.4 419.3 863.6 424.3 870.4 427.9 C877.2 431.5 884.9 433.4 892.2 436.1 C899.4 438.8 906.7 440.6 913.9 444.2 C921.2 447.9 928.9 453.3 935.7 457.8 C942.4 462.3 947.9 467.8 954.7 471.4 C961.5 475.0 968.7 477.7 976.4 479.6 C984.1 481.4 992.7 481.6 1000.9 482.3 C1009.0 483.0 1016.7 483.0 1025.3 483.6 C1033.9 484.3 1044.3 484.8 1052.5 486.4 C1060.7 487.9 1069.7 491.1 1074.2 493.1 C1078.8 495.2 1079.9 495.9 1079.7 498.6 C1079.4 501.3 1075.6 505.8 1072.9 509.4 C1070.2 513.1 1065.2 516.2 1063.4 520.3 C1061.6 524.4 1060.7 529.8 1062.0 533.9 C1063.4 538.0 1065.7 541.4 1071.5 544.8 C1077.4 548.2 1086.1 552.1 1097.2 554.3 C1108.2 556.6 1124.3 557.9 1137.9 558.4 C1151.5 559.0 1165.1 558.1 1178.7 557.6 C1192.3 557.1 1205.9 556.7 1219.5 555.7 C1233.0 554.7 1248.9 553.0 1260.2 551.6 C1271.5 550.3 1280.6 549.1 1287.4 547.5 C1294.2 546.0 1297.1 544.4 1301.0 542.1 C1304.8 539.8 1309.1 537.4 1310.5 534.0 C1311.8 530.6 1310.3 525.4 1309.1 521.7 C1308.0 518.1 1304.1 514.9 1303.7 512.2 C1303.2 509.5 1302.3 507.2 1306.4 505.4 C1310.5 503.6 1317.7 502.7 1328.2 501.4 C1338.6 500.0 1355.4 498.8 1368.9 497.3 C1382.5 495.8 1397.6 493.2 1409.4 492.4 C1421.2 491.6 1429.9 493.7 1440.0 492.4 C1450.1 491.0 1464.2 520.8 1470.0 484.4 C1475.8 447.9 1475.0 344.0 1475.0 273.7 C1475.0 203.5 1475.8 99.5 1470.0 63.1 C1464.2 26.7 1450.1 56.4 1440.0 55.1 C1429.9 53.8 1421.2 56.2 1409.4 55.1 Z" fill="#0060ff"/>
<path d="M293.6 8.3 C291.9 9.7 309.3 12.9 321.6 13.6 C333.8 14.2 350.7 12.6 367.0 12.2 C383.3 11.7 399.9 11.4 419.4 10.8 C438.9 10.1 478.2 9.3 484.0 8.3 C489.8 7.4 470.9 5.9 454.3 5.2 C437.7 4.5 404.8 4.1 384.4 4.1 C364.1 4.1 347.2 4.5 332.0 5.2 C316.9 5.9 295.3 6.9 293.6 8.3 Z" fill="#0060ff"/>
<path d="M1409.4 143.4 C1397.6 142.3 1380.2 138.4 1368.9 136.6 C1357.6 134.8 1353.1 133.9 1341.7 132.5 C1330.4 131.2 1314.6 129.5 1301.0 128.5 C1287.4 127.4 1273.8 126.9 1260.2 126.3 C1246.6 125.7 1235.3 125.5 1219.5 124.9 C1203.6 124.4 1183.2 123.5 1165.1 123.0 C1147.0 122.6 1129.5 122.0 1110.8 122.2 C1092.0 122.4 1069.0 122.9 1052.5 124.4 C1036.0 125.9 1025.3 128.5 1011.7 131.2 C998.2 133.9 983.7 137.3 971.0 140.7 C958.3 144.1 945.2 148.2 935.7 151.6 C926.1 155.0 921.2 157.2 913.9 161.1 C906.7 164.9 899.4 170.1 892.2 174.7 C884.9 179.2 877.7 182.8 870.4 188.3 C863.2 193.7 854.0 200.9 848.7 207.3 C843.4 213.6 839.5 220.0 838.4 226.3 C837.2 232.6 839.5 238.5 841.9 245.3 C844.3 252.1 850.7 258.4 852.8 267.1 C854.8 275.8 854.4 289.2 854.1 297.5 C853.9 305.7 851.0 308.8 851.4 316.5 C851.9 324.2 853.7 335.1 856.8 343.7 C860.0 352.3 865.5 360.9 870.4 368.1 C875.4 375.4 880.4 381.3 886.7 387.2 C893.1 393.1 900.3 398.0 908.5 403.5 C916.6 408.9 925.2 414.8 935.7 419.8 C946.1 424.8 959.2 428.8 971.0 433.4 C982.8 437.9 995.0 442.9 1006.3 446.9 C1017.6 451.0 1028.9 455.1 1038.9 457.8 C1048.9 460.5 1057.6 461.7 1066.1 463.3 C1074.6 464.8 1082.7 466.3 1090.1 467.4 C1097.6 468.4 1100.5 468.7 1110.8 469.6 C1121.0 470.4 1137.9 471.4 1151.5 472.3 C1165.1 473.2 1178.7 474.4 1192.3 475.0 C1205.9 475.6 1219.5 476.2 1233.0 476.1 C1246.6 475.9 1262.5 474.9 1273.8 474.2 C1285.1 473.4 1289.7 472.8 1301.0 471.5 C1312.3 470.1 1328.2 467.7 1341.7 466.0 C1355.3 464.3 1371.2 462.8 1382.5 461.4 C1393.8 460.0 1399.8 458.5 1409.4 457.9 C1419.0 457.3 1429.9 459.2 1440.0 457.9 C1450.1 456.5 1464.2 476.1 1470.0 449.9 C1475.8 423.7 1475.0 350.4 1475.0 300.6 C1475.0 250.9 1475.8 177.6 1470.0 151.4 C1464.2 125.2 1450.1 144.7 1440.0 143.4 C1429.9 142.1 1421.2 144.5 1409.4 143.4 Z" fill="#00a0ff"/>
<path d="M1177.3 514.9 L1186.0 514.9 L1186.0 525.3 L1177.3 525.3 Z" fill="#00a0ff"/>
<path d="M1409.4 178.7 C1398.5 176.9 1385.6 170.8 1374.3 167.9 C1363.1 164.9 1354.0 163.2 1341.7 161.1 C1329.5 158.9 1314.6 156.9 1301.0 155.1 C1287.4 153.3 1273.8 151.6 1260.2 150.2 C1246.6 148.8 1233.0 147.4 1219.5 146.7 C1205.9 145.9 1192.3 145.7 1178.7 145.6 C1165.1 145.5 1151.5 145.4 1137.9 146.1 C1124.3 146.9 1113.7 148.3 1097.2 150.2 C1080.7 152.2 1054.1 155.6 1038.9 157.8 C1023.8 160.1 1016.7 161.0 1006.3 163.8 C995.9 166.6 984.1 170.6 976.4 174.7 C968.7 178.7 963.7 183.3 960.1 188.3 C956.5 193.2 956.5 199.1 954.7 204.6 C952.9 210.0 952.4 215.7 949.2 220.9 C946.1 226.1 941.5 230.4 935.7 235.8 C929.8 241.2 919.8 246.9 913.9 253.5 C908.0 260.0 903.7 267.9 900.3 275.2 C896.9 282.5 894.9 289.7 893.5 297.5 C892.2 305.3 890.6 314.2 892.2 321.9 C893.8 329.6 897.6 337.3 903.0 343.7 C908.5 350.0 916.6 355.0 924.8 360.0 C932.9 365.0 942.0 369.5 952.0 373.6 C961.9 377.7 975.5 380.8 984.6 384.4 C993.6 388.1 1000.0 391.2 1006.3 395.3 C1012.6 399.4 1018.1 404.4 1022.6 408.9 C1027.1 413.4 1028.9 418.2 1033.5 422.5 C1038.0 426.8 1043.4 431.1 1049.8 434.7 C1056.1 438.3 1064.8 442.0 1071.5 444.2 C1078.2 446.5 1083.7 447.3 1090.0 448.4 C1096.2 449.5 1102.0 450.7 1109.1 450.7 C1116.1 450.7 1125.0 450.1 1132.4 448.4 C1139.7 446.6 1147.1 443.9 1153.3 440.2 C1159.5 436.6 1165.6 429.8 1169.6 426.3 C1173.7 422.8 1174.7 421.8 1177.8 419.3 C1180.9 416.8 1182.6 413.3 1188.3 411.1 C1193.9 409.0 1203.8 407.1 1211.6 406.5 C1219.3 405.8 1227.1 406.4 1234.8 407.2 C1242.6 407.9 1255.7 408.3 1258.1 411.1 C1260.6 413.9 1252.4 420.0 1249.3 423.9 C1246.3 427.8 1241.6 431.6 1239.8 434.8 C1238.0 437.9 1236.0 440.9 1238.5 442.9 C1241.0 445.0 1248.4 445.7 1254.8 447.0 C1261.1 448.3 1269.7 450.5 1276.5 450.5 C1283.3 450.5 1290.1 449.2 1295.5 447.0 C1301.0 444.8 1306.3 440.9 1309.1 437.5 C1312.0 434.1 1312.4 430.7 1312.7 426.6 C1312.9 422.5 1309.0 415.2 1310.5 413.0 C1311.9 410.9 1315.8 414.2 1321.4 413.7 C1327.0 413.3 1334.5 411.3 1343.9 410.4 C1353.3 409.4 1366.8 408.7 1377.7 408.1 C1388.6 407.6 1399.0 407.2 1409.4 407.0 C1419.8 406.8 1429.9 408.3 1440.0 407.0 C1450.1 405.7 1464.2 418.0 1470.0 399.0 C1475.8 380.0 1475.0 328.2 1475.0 292.9 C1475.0 257.5 1475.8 205.8 1470.0 186.7 C1464.2 167.7 1450.1 180.1 1440.0 178.7 C1429.9 177.4 1420.3 180.6 1409.4 178.7 Z" fill="#00e0fb"/>
<path d="M1409.4 216.8 C1399.8 216.0 1391.5 213.8 1382.5 212.2 C1373.5 210.6 1366.6 209.2 1355.3 207.3 C1344.0 205.3 1328.2 202.4 1314.6 200.5 C1301.0 198.6 1287.4 197.1 1273.8 195.9 C1260.2 194.6 1246.6 193.7 1233.0 193.1 C1219.5 192.6 1205.9 192.3 1192.3 192.3 C1178.7 192.3 1165.1 192.5 1151.5 193.1 C1137.9 193.8 1127.3 194.3 1110.8 196.4 C1094.3 198.5 1066.7 203.2 1052.5 205.9 C1038.3 208.6 1033.9 209.3 1025.3 212.7 C1016.7 216.1 1008.6 221.3 1000.9 226.3 C993.2 231.3 987.3 236.9 979.1 242.6 C971.0 248.3 960.1 254.4 952.0 260.3 C943.8 266.2 935.7 271.7 930.2 277.9 C924.8 284.1 920.9 292.4 919.3 297.5 C917.8 302.6 918.9 303.4 920.7 308.4 C922.5 313.3 925.0 321.9 930.2 327.4 C935.4 332.8 942.9 336.4 952.0 341.0 C961.0 345.5 973.7 350.3 984.6 354.6 C995.4 358.9 1003.8 362.6 1017.2 366.8 C1030.5 371.0 1051.8 376.0 1064.8 379.7 C1077.8 383.4 1084.6 386.7 1095.1 389.0 C1105.6 391.3 1116.4 392.7 1127.7 393.7 C1139.0 394.6 1151.0 394.9 1162.6 394.8 C1174.3 394.7 1186.7 394.1 1197.6 393.2 C1208.4 392.3 1217.5 391.0 1227.9 389.5 C1238.3 387.9 1250.0 385.1 1260.0 383.9 C1270.0 382.7 1277.4 382.3 1287.6 382.2 C1297.8 382.1 1310.1 382.6 1321.4 383.4 C1332.6 384.1 1345.0 385.8 1355.2 386.7 C1365.3 387.7 1373.1 388.2 1382.2 389.0 C1391.2 389.7 1399.8 390.9 1409.4 391.2 C1419.1 391.6 1429.9 392.6 1440.0 391.2 C1450.1 389.9 1464.2 397.8 1470.0 383.2 C1475.8 368.7 1475.0 330.4 1475.0 304.0 C1475.0 277.6 1475.8 239.3 1470.0 224.8 C1464.2 210.2 1450.1 218.1 1440.0 216.8 C1429.9 215.5 1419.0 217.6 1409.4 216.8 Z" fill="#30ffc7"/>
<path d="M78.4 151.6 C89.3 151.8 103.0 153.1 116.6 153.1 C130.2 153.1 147.1 151.1 160.1 151.6 C173.0 152.1 183.4 153.4 194.2 156.2 C205.1 159.1 215.4 163.5 225.3 168.7 C235.1 173.8 246.5 181.6 253.2 187.3 C260.0 193.0 263.2 196.6 265.7 202.8 C268.1 209.0 267.6 217.3 268.1 224.6 C268.7 231.8 267.6 239.6 268.8 246.3 C269.9 253.0 271.9 259.8 275.0 264.9 C278.1 270.1 281.2 272.7 287.4 277.4 C293.6 282.0 304.5 288.0 312.2 292.9 C320.0 297.8 326.2 301.4 334.0 306.9 C341.7 312.3 351.1 320.3 358.8 325.5 C366.6 330.7 374.3 334.3 380.6 337.9 C386.8 341.5 392.9 344.1 396.1 347.2 C399.3 350.3 402.4 354.2 399.8 356.5 C397.2 358.9 388.9 359.5 380.6 361.2 C372.2 362.9 359.9 364.5 349.5 366.8 C339.2 369.1 328.8 372.0 318.4 375.2 C308.1 378.4 298.8 382.2 287.4 386.0 C276.0 389.9 263.1 394.6 250.1 398.5 C237.2 402.4 224.2 406.2 209.8 409.3 C195.3 412.4 178.2 415.0 163.2 417.1 C148.2 419.2 130.6 419.9 119.7 421.8 C108.8 423.6 104.8 424.3 98.0 428.0 C91.1 431.6 86.1 440.1 78.4 443.5 C70.6 446.9 55.9 473.3 51.4 448.2 C46.9 423.1 51.4 342.3 51.4 292.9 C51.4 243.4 46.9 175.1 51.4 151.6 C55.9 128.0 67.5 151.3 78.4 151.6 Z" fill="#00a0ff"/>
<path d="M78.4 185.7 C89.3 186.3 102.5 187.0 116.6 188.8 C130.7 190.7 149.2 193.5 163.2 196.6 C177.1 199.7 190.1 203.1 200.4 207.5 C210.8 211.9 218.0 216.0 225.3 223.0 C232.5 230.0 238.7 240.9 243.9 249.4 C249.1 257.9 251.2 266.5 256.3 274.2 C261.5 282.0 269.8 289.3 275.0 296.0 C280.1 302.7 284.9 308.9 287.4 314.6 C289.9 320.3 290.4 325.0 289.9 330.1 C289.4 335.3 288.3 340.5 284.3 345.7 C280.2 350.9 273.9 356.0 265.7 361.2 C257.4 366.4 246.5 371.8 234.6 376.7 C222.7 381.6 208.7 387.1 194.2 390.7 C179.7 394.3 163.2 396.7 147.6 398.5 C132.1 400.3 112.6 401.1 101.1 401.6 C89.5 402.1 86.7 401.6 78.4 401.6 C70.1 401.6 55.9 419.7 51.4 401.6 C46.9 383.5 51.4 328.9 51.4 292.9 C51.4 256.9 46.9 203.6 51.4 185.7 C55.9 167.9 67.5 185.2 78.4 185.7 Z" fill="#00e0fb"/>
<path d="M78.4 219.9 C89.3 220.7 103.0 222.5 116.6 224.6 C130.2 226.6 146.6 228.7 160.1 232.3 C173.5 235.9 187.0 240.9 197.3 246.3 C207.7 251.7 215.2 258.2 222.2 264.9 C229.2 271.7 234.9 278.9 239.3 286.7 C243.7 294.4 247.3 304.3 248.6 311.5 C249.9 318.8 249.9 323.9 247.0 330.1 C244.2 336.4 238.7 342.8 231.5 348.8 C224.2 354.7 214.4 360.9 203.5 365.9 C192.7 370.8 179.7 375.2 166.3 378.3 C152.8 381.4 137.4 383.4 122.8 384.5 C108.1 385.6 90.3 385.0 78.4 385.1 C66.5 385.2 55.9 400.5 51.4 385.1 C46.9 369.7 51.4 320.4 51.4 292.9 C51.4 265.3 46.9 232.1 51.4 219.9 C55.9 207.7 67.5 219.1 78.4 219.9 Z" fill="#30ffc7"/>
<path d="M78.4 234.5 C88.7 235.2 100.9 236.5 113.5 238.5 C126.1 240.6 141.4 243.3 153.9 246.9 C166.3 250.5 178.7 255.2 188.0 260.3 C197.3 265.3 204.2 270.9 209.8 277.4 C215.3 283.8 219.7 291.8 221.2 299.1 C222.8 306.3 222.0 313.8 219.1 320.8 C216.1 327.8 210.8 334.8 203.5 341.0 C196.3 347.2 186.5 353.4 175.6 358.1 C164.7 362.8 150.7 366.5 138.3 369.0 C125.9 371.4 111.0 372.1 101.1 372.7 C91.1 373.3 86.7 372.7 78.4 372.7 C70.1 372.7 55.9 386.0 51.4 372.7 C46.9 359.4 51.4 315.9 51.4 292.9 C51.4 269.8 46.9 244.2 51.4 234.5 C55.9 224.8 68.0 233.8 78.4 234.5 Z" fill="#63ff94"/>
<path d="M78.4 243.8 C88.2 244.5 98.8 245.7 110.4 247.8 C121.9 250.0 136.8 253.2 147.6 256.5 C158.5 259.9 167.8 263.5 175.6 268.0 C183.4 272.5 189.7 277.9 194.2 283.6 C198.8 289.3 202.4 296.0 202.9 302.2 C203.4 308.4 201.1 314.9 197.3 320.8 C193.6 326.8 187.5 333.0 180.2 337.9 C173.0 342.8 163.9 347.1 153.9 350.3 C143.8 353.6 132.3 356.0 119.7 357.5 C107.1 358.9 89.8 358.8 78.4 359.0 C67.0 359.3 55.9 370.1 51.4 359.0 C46.9 348.0 51.4 312.1 51.4 292.9 C51.4 273.7 46.9 252.0 51.4 243.8 C55.9 235.6 68.6 243.1 78.4 243.8 Z" fill="#97ff60"/>
<path d="M78.4 252.5 C87.7 253.1 97.3 254.4 107.3 256.2 C117.3 258.0 129.0 260.4 138.3 263.4 C147.6 266.4 156.4 270.4 163.2 274.2 C169.9 278.1 175.0 282.0 178.7 286.7 C182.4 291.3 185.3 297.0 185.5 302.2 C185.8 307.4 183.7 312.8 180.2 317.7 C176.8 322.6 171.2 327.8 164.7 331.7 C158.3 335.6 150.5 338.6 141.4 341.0 C132.4 343.4 120.9 345.2 110.4 346.3 C99.9 347.4 88.2 347.3 78.4 347.5 C68.6 347.7 55.9 356.6 51.4 347.5 C46.9 338.4 51.4 308.7 51.4 292.9 C51.4 277.0 46.9 259.2 51.4 252.5 C55.9 245.8 69.1 251.9 78.4 252.5 Z" fill="#caff2c"/>
<path d="M78.4 259.6 C86.7 260.3 93.1 261.7 101.1 263.4 C109.0 265.0 118.1 267.0 125.9 269.6 C133.7 272.2 141.7 275.5 147.6 278.9 C153.6 282.3 158.3 285.9 161.6 289.8 C165.0 293.7 167.6 298.1 167.8 302.2 C168.1 306.3 166.5 310.7 163.2 314.6 C159.8 318.5 153.9 322.5 147.6 325.5 C141.4 328.5 133.7 330.8 125.9 332.6 C118.1 334.4 109.0 335.6 101.1 336.4 C93.1 337.1 86.7 336.9 78.4 337.0 C70.1 337.1 55.9 344.3 51.4 337.0 C46.9 329.6 51.4 305.8 51.4 292.9 C51.4 280.0 46.9 265.2 51.4 259.6 C55.9 254.1 70.1 259.0 78.4 259.6 Z" fill="#feed00"/>
<path d="M78.4 269.6 C86.7 270.4 93.7 272.2 101.1 274.2 C108.5 276.3 116.8 279.2 122.8 282.0 C128.7 284.9 133.7 288.1 136.8 291.3 C139.9 294.6 141.7 298.2 141.4 301.6 C141.2 304.9 138.8 308.6 135.2 311.5 C131.6 314.5 125.9 317.3 119.7 319.3 C113.5 321.2 104.8 322.4 98.0 323.3 C91.1 324.2 86.1 324.6 78.4 324.9 C70.6 325.1 55.9 330.2 51.4 324.9 C46.9 319.5 51.4 302.1 51.4 292.9 C51.4 283.7 46.9 273.5 51.4 269.6 C55.9 265.7 70.1 268.8 78.4 269.6 Z" fill="#ffb200"/>
<path d="M78.4 283.6 C84.3 284.9 84.8 288.9 87.1 291.3 C89.4 293.8 92.4 295.8 92.4 298.2 C92.4 300.5 89.4 303.3 87.1 305.3 C84.8 307.3 84.3 309.2 78.4 310.0 C72.4 310.7 55.9 314.4 51.4 310.0 C46.9 305.6 46.9 288.0 51.4 283.6 C55.9 279.2 72.4 282.3 78.4 283.6 Z" fill="#ff7700"/>
<path d="M289.6 96.4 C289.3 91.3 290.1 88.0 292.2 84.3 C294.3 80.6 297.3 77.2 302.3 74.2 C307.3 71.2 314.4 68.8 322.5 66.1 C330.6 63.4 339.3 60.8 350.7 58.1 C362.2 55.4 374.3 52.4 391.1 50.0 C407.9 47.5 440.9 44.4 451.7 43.3 C462.5 42.3 443.8 44.0 455.9 43.8 C468.0 43.7 502.5 41.9 524.2 42.3 C546.0 42.7 565.6 44.2 586.3 46.0 C607.0 47.8 627.7 50.4 648.4 53.2 C669.2 55.9 695.3 60.1 710.6 62.5 C725.8 64.8 732.0 65.6 740.1 67.1 C748.1 68.6 752.7 69.8 759.0 71.4 C765.4 73.0 772.8 74.6 778.0 76.8 C783.3 79.1 787.8 81.4 790.3 85.0 C792.8 88.6 793.7 94.0 793.0 98.6 C792.3 103.1 789.1 107.6 786.2 112.2 C783.3 116.7 778.9 121.2 775.3 125.8 C771.7 130.3 767.6 134.4 764.5 139.3 C761.3 144.3 758.6 149.3 756.3 155.6 C754.0 162.0 752.6 170.1 750.9 177.4 C749.1 184.6 746.4 191.9 746.0 199.1 C745.5 206.4 746.4 213.6 748.2 220.9 C749.9 228.1 753.1 236.3 756.3 242.6 C759.5 248.9 764.0 253.5 767.2 258.9 C770.3 264.3 773.5 268.8 775.3 275.2 C777.1 281.6 778.5 292.4 778.0 297.5 C777.6 302.6 774.9 301.6 772.6 305.6 C770.3 309.7 766.9 316.5 764.5 321.9 C762.0 327.4 759.2 332.4 757.7 338.3 C756.1 344.1 756.1 352.3 754.9 357.3 C753.8 362.3 752.6 365.8 750.9 368.1 C749.2 370.5 747.6 370.5 744.7 371.5 C741.9 372.5 736.7 375.0 733.9 374.0 C731.0 373.0 728.2 369.3 727.6 365.3 C727.1 361.3 731.0 354.2 730.7 349.8 C730.5 345.4 728.9 341.8 726.1 338.9 C723.2 336.1 719.9 334.0 713.7 332.7 C707.5 331.4 698.1 330.9 688.8 331.1 C679.5 331.4 666.0 334.5 657.8 334.2 C649.5 334.0 644.6 332.2 639.1 329.6 C633.7 327.0 628.2 322.6 625.2 318.7 C622.2 314.8 620.9 311.0 621.1 306.3 C621.4 301.6 624.5 295.9 626.7 290.8 C628.9 285.6 632.4 280.2 634.5 275.2 C636.5 270.3 639.1 265.4 639.1 261.3 C639.1 257.1 638.1 253.5 634.5 250.4 C630.8 247.3 623.9 245.2 617.4 242.6 C610.9 240.0 601.3 238.0 595.7 234.9 C590.0 231.8 584.5 227.6 583.2 224.0 C581.9 220.4 584.8 216.5 587.9 213.1 C591.0 209.7 596.9 205.9 601.9 203.8 C606.8 201.7 610.7 200.7 617.4 200.7 C624.1 200.7 635.0 202.5 642.2 203.8 C649.5 205.1 656.3 208.4 660.9 208.4 C665.4 208.4 668.3 206.4 669.6 203.8 C670.9 201.2 670.6 196.4 668.6 192.9 C666.7 189.4 662.7 185.1 657.8 182.7 C652.8 180.2 645.9 178.8 639.1 178.3 C632.4 177.8 626.2 179.1 617.4 179.9 C608.6 180.6 601.9 181.5 586.3 182.7 C570.8 183.8 544.9 185.5 524.2 186.7 C503.5 187.9 477.6 189.5 462.1 189.8 C446.6 190.1 441.4 189.8 431.1 188.3 C420.7 186.7 410.1 184.0 400.0 180.5 C389.9 177.0 381.2 172.4 370.5 167.3 C359.7 162.2 346.0 155.6 335.5 149.8 C325.0 144.0 314.6 138.2 307.6 132.4 C300.6 126.5 296.6 120.9 293.6 114.9 C290.6 108.9 289.8 101.5 289.6 96.4 Z" fill="#0000ed"/>
<path d="M677.3 214.7 C679.4 214.2 684.0 224.2 684.2 228.7 C684.4 233.2 680.6 241.2 678.6 241.7 C676.5 242.2 671.9 236.3 671.7 231.8 C671.5 227.3 675.3 215.2 677.3 214.7 Z" fill="#0020ff"/>
<path d="M405.3 96.6 C405.3 93.8 405.0 91.5 409.3 88.9 C413.6 86.3 419.7 82.9 431.1 81.1 C442.4 79.3 459.5 78.0 477.6 78.0 C495.8 78.0 519.0 79.6 539.8 81.1 C560.5 82.7 583.7 84.5 601.9 87.3 C620.0 90.2 637.3 94.6 648.4 98.2 C659.6 101.8 665.5 105.7 668.6 109.1 C671.7 112.4 670.4 115.5 667.1 118.4 C663.7 121.2 659.3 123.0 648.4 126.1 C637.6 129.2 617.4 133.9 601.9 137.0 C586.3 140.1 570.8 143.7 555.3 144.8 C539.8 145.8 523.2 144.8 508.7 143.2 C494.2 141.7 481.3 139.3 468.3 135.5 C455.4 131.6 440.9 124.8 431.1 119.9 C421.2 115.0 413.6 109.8 409.3 106.0 C405.0 102.1 405.3 99.5 405.3 96.6 Z" fill="#0000a4"/>
<path d="M78.4 578.2 C86.7 576.7 92.1 572.8 98.0 568.9 C103.8 565.0 109.9 560.4 113.5 554.9 C117.1 549.5 116.6 541.5 119.7 536.3 C122.8 531.1 125.9 527.1 132.1 523.9 C138.3 520.7 146.6 518.3 157.0 517.0 C167.3 515.7 180.2 515.7 194.2 516.1 C208.2 516.5 225.3 517.7 240.8 519.2 C256.3 520.8 271.9 523.1 287.4 525.4 C302.9 527.8 318.4 531.1 334.0 533.2 C349.5 535.3 365.0 536.6 380.6 537.8 C396.1 539.1 412.2 540.2 427.1 541.0 C442.0 541.7 454.1 542.7 469.9 542.5 C485.8 542.4 503.1 541.2 522.1 540.0 C541.2 538.9 563.5 537.8 584.2 535.7 C604.9 533.5 625.6 530.2 646.3 527.0 C667.0 523.7 691.9 519.7 708.4 516.1 C725.0 512.5 735.9 508.9 745.7 505.2 C755.5 501.6 762.0 498.5 767.5 494.4 C772.9 490.2 776.1 485.8 778.3 480.4 C780.5 475.0 779.4 466.5 780.5 461.8 C781.6 457.0 782.5 454.7 784.8 452.1 C787.1 449.4 790.0 446.9 794.3 446.1 C798.7 445.3 804.8 445.3 810.7 447.2 C816.5 449.1 823.3 453.5 829.7 457.5 C836.0 461.5 842.4 465.9 848.7 471.1 C855.0 476.3 861.4 483.8 867.7 488.7 C874.1 493.7 879.0 497.1 886.7 501.0 C894.4 504.8 904.4 508.4 913.9 511.8 C923.4 515.2 935.2 518.2 943.8 521.4 C952.4 524.5 958.8 527.0 965.5 530.9 C972.3 534.7 978.7 539.5 984.6 544.4 C990.5 549.4 995.4 555.5 1000.9 560.8 C1006.3 566.0 1011.7 571.2 1017.2 575.7 C1022.6 580.2 1027.6 584.5 1033.5 587.9 C1039.4 591.3 1046.2 593.8 1052.5 596.1 C1058.8 598.3 1061.8 599.6 1071.5 601.5 C1081.2 603.4 1097.4 605.6 1110.8 607.3 C1124.1 609.1 1137.9 611.0 1151.5 611.9 C1165.1 612.9 1178.7 613.2 1192.3 613.3 C1205.9 613.4 1219.5 613.3 1233.0 612.8 C1246.6 612.2 1260.2 611.4 1273.8 610.0 C1287.4 608.7 1301.0 606.9 1314.6 604.6 C1328.2 602.3 1344.0 598.9 1355.3 596.5 C1366.6 594.1 1373.5 592.2 1382.5 590.2 C1391.5 588.2 1399.8 585.2 1409.4 584.2 C1419.0 583.2 1429.9 582.6 1440.0 584.2 C1450.1 585.9 1465.0 571.6 1470.0 594.2 C1475.0 616.9 1598.3 695.7 1470.0 720.0 C1341.7 744.3 941.7 740.0 700.0 740.0 C458.3 740.0 133.3 745.3 20.0 720.0 C-93.3 694.7 15.3 611.9 20.0 588.2 C24.7 564.6 38.3 579.9 48.0 578.2 C57.7 576.6 70.1 579.8 78.4 578.2 Z" fill="#0000ed"/>
<path d="M78.4 623.3 C92.4 621.2 112.8 615.2 132.1 610.8 C151.4 606.4 176.1 601.0 194.2 596.9 C212.3 592.7 227.9 588.2 240.8 586.0 C253.7 583.8 262.0 583.2 271.9 583.5 C281.7 583.8 292.0 585.3 299.8 587.5 C307.6 589.8 312.2 593.2 318.4 596.9 C324.7 600.5 329.3 605.4 337.1 609.3 C344.8 613.2 355.2 617.3 365.0 620.1 C374.9 623.0 385.7 624.8 396.1 626.4 C406.4 627.9 414.8 628.4 427.1 629.5 C439.5 630.5 459.3 632.1 469.9 632.6 C480.6 633.1 480.8 632.3 491.1 632.6 C501.3 632.8 518.5 634.1 531.4 634.1 C544.4 634.1 554.7 633.3 568.7 632.6 C582.7 631.8 599.8 630.9 615.3 629.5 C630.8 628.0 648.4 626.2 661.9 623.9 C675.3 621.5 688.8 618.3 696.0 615.5 C703.3 612.7 707.4 610.2 705.3 607.1 C703.3 604.0 691.4 600.4 683.6 596.9 C675.8 593.3 666.3 588.8 658.8 586.0 C651.3 583.1 642.3 581.9 638.6 579.8 C634.8 577.6 634.1 575.0 636.4 572.9 C638.7 570.9 643.1 570.4 652.5 567.4 C662.0 564.3 678.4 559.3 692.9 554.9 C707.4 550.5 724.5 545.1 739.5 541.0 C754.5 536.8 769.3 532.1 783.0 530.1 C796.7 528.0 810.6 527.7 821.5 528.7 C832.5 529.7 840.5 533.0 848.7 536.3 C856.8 539.6 864.5 544.0 870.4 548.5 C876.3 553.1 880.6 558.3 884.0 563.5 C887.4 568.7 887.6 574.8 890.8 579.8 C894.0 584.8 897.4 589.3 903.0 593.4 C908.7 597.4 915.7 600.6 924.8 604.2 C933.8 607.9 945.2 611.9 957.4 615.1 C969.6 618.3 984.6 620.8 998.2 623.3 C1011.7 625.7 1026.9 628.4 1038.9 630.0 C1050.9 631.7 1055.8 631.9 1070.0 633.1 C1084.2 634.3 1106.2 636.2 1124.3 637.2 C1142.5 638.3 1160.6 639.0 1178.7 639.4 C1196.8 639.8 1214.9 639.8 1233.0 639.4 C1251.2 639.0 1269.3 638.3 1287.4 637.2 C1305.5 636.2 1325.9 634.6 1341.7 633.1 C1357.6 631.6 1371.2 629.6 1382.5 628.3 C1393.8 626.9 1399.8 625.5 1409.4 625.0 C1419.0 624.4 1429.9 623.3 1440.0 625.0 C1450.1 626.7 1465.0 619.2 1470.0 635.0 C1475.0 650.8 1598.3 702.5 1470.0 720.0 C1341.7 737.5 941.7 740.0 700.0 740.0 C458.3 740.0 133.3 737.8 20.0 720.0 C-93.3 702.2 15.3 649.4 20.0 633.3 C24.7 617.1 38.3 624.9 48.0 623.3 C57.7 621.6 64.4 625.3 78.4 623.3 Z" fill="#0000a4"/>
<path d="M1407.9 228.7 C1397.1 227.6 1385.9 224.1 1375.3 221.8 C1364.7 219.4 1354.6 217.0 1344.2 214.8 C1333.9 212.6 1323.5 210.4 1313.2 208.6 C1302.8 206.8 1292.5 204.9 1282.1 203.9 C1271.8 202.9 1261.4 202.5 1251.1 202.4 C1240.7 202.2 1229.1 202.9 1220.0 203.1 C1210.9 203.4 1207.9 203.4 1196.2 204.0 C1184.5 204.5 1163.2 205.1 1149.6 206.3 C1136.0 207.5 1126.3 208.9 1114.7 211.0 C1103.0 213.0 1090.6 215.8 1079.8 218.6 C1068.9 221.5 1059.2 224.3 1049.5 228.0 C1039.8 231.6 1030.1 236.3 1021.5 240.8 C1013.0 245.2 1006.0 249.7 998.2 254.7 C990.5 259.8 982.3 265.2 974.9 271.0 C967.6 276.9 958.9 283.9 954.0 289.7 C949.0 295.5 946.4 301.5 945.1 306.0 C943.9 310.5 944.0 313.2 946.5 316.5 C949.0 319.8 953.9 322.8 960.0 325.6 C966.1 328.5 975.5 330.7 983.3 333.6 C991.1 336.4 998.0 339.3 1006.6 342.9 C1015.1 346.5 1024.8 351.0 1034.5 355.2 C1044.2 359.4 1054.7 364.2 1064.8 368.0 C1074.9 371.9 1084.6 375.6 1095.1 378.5 C1105.6 381.4 1116.4 384.0 1127.7 385.5 C1139.0 387.1 1151.0 387.6 1162.6 387.8 C1174.3 388.1 1186.7 387.7 1197.6 387.1 C1208.4 386.6 1219.5 385.4 1227.9 384.3 C1236.2 383.3 1240.4 382.3 1247.5 380.7 C1254.7 379.0 1264.3 376.3 1270.8 374.5 C1277.3 372.7 1281.5 371.2 1286.3 369.8 C1291.2 368.5 1295.5 366.7 1300.0 366.4 C1304.5 366.1 1307.1 368.5 1313.2 368.2 C1319.2 367.9 1328.7 365.4 1336.5 364.6 C1344.2 363.8 1352.0 363.5 1359.8 363.5 C1367.5 363.5 1375.0 364.0 1383.0 364.7 C1391.1 365.4 1398.4 367.2 1407.9 367.7 C1417.4 368.2 1429.6 369.0 1440.0 367.7 C1450.4 366.4 1464.2 371.3 1470.0 359.7 C1475.8 348.1 1475.0 318.7 1475.0 298.2 C1475.0 277.7 1475.8 248.3 1470.0 236.7 C1464.2 225.2 1450.4 230.1 1440.0 228.7 C1429.6 227.4 1418.7 229.9 1407.9 228.7 Z" fill="#63ff94"/>
<path d="M1407.9 238.1 C1397.1 236.8 1385.9 233.2 1375.3 230.8 C1364.7 228.4 1354.6 225.9 1344.2 223.6 C1333.9 221.3 1323.5 219.0 1313.2 217.1 C1302.8 215.2 1292.5 213.5 1282.1 212.4 C1271.8 211.4 1261.4 210.8 1251.1 210.6 C1240.7 210.3 1229.1 210.6 1220.0 210.9 C1210.9 211.2 1206.0 211.8 1196.2 212.4 C1186.4 212.9 1172.9 213.4 1161.3 214.4 C1149.6 215.5 1138.0 216.6 1126.3 218.6 C1114.7 220.7 1102.3 223.7 1091.4 226.8 C1080.5 229.9 1070.8 233.4 1061.1 237.3 C1051.4 241.2 1041.7 245.6 1033.2 250.1 C1024.6 254.5 1017.6 259.0 1009.9 264.1 C1002.1 269.1 992.6 275.7 986.6 280.4 C980.6 285.0 976.3 289.2 973.8 292.0 C971.2 294.8 971.1 295.1 971.2 297.0 C971.2 298.9 972.0 300.8 974.0 303.3 C976.0 305.8 978.6 308.9 983.3 312.1 C988.0 315.4 994.9 319.1 1001.9 322.6 C1008.9 326.1 1017.5 329.2 1025.2 333.1 C1033.0 337.0 1040.7 341.6 1048.5 345.9 C1056.3 350.2 1063.3 354.8 1071.8 358.7 C1080.3 362.6 1090.4 366.3 1099.8 369.2 C1109.1 372.1 1118.0 374.4 1127.7 376.2 C1137.4 377.9 1147.1 378.9 1158.0 379.7 C1168.9 380.5 1181.3 381.2 1192.9 380.8 C1204.6 380.5 1218.8 378.7 1227.9 377.4 C1237.0 376.0 1240.4 374.8 1247.5 372.9 C1254.7 371.0 1264.3 368.0 1270.8 365.9 C1277.3 363.9 1281.5 362.1 1286.3 360.5 C1291.2 358.9 1295.5 357.0 1300.0 356.3 C1304.5 355.6 1307.1 356.7 1313.2 356.0 C1319.2 355.4 1328.7 353.1 1336.5 352.3 C1344.2 351.5 1352.0 351.3 1359.8 351.4 C1367.5 351.5 1375.0 352.2 1383.0 352.9 C1391.1 353.7 1398.4 355.3 1407.9 355.7 C1417.4 356.2 1429.6 357.1 1440.0 355.7 C1450.4 354.4 1464.2 357.5 1470.0 347.7 C1475.8 337.9 1475.0 313.8 1475.0 296.9 C1475.0 280.0 1475.8 255.9 1470.0 246.1 C1464.2 236.3 1450.4 239.4 1440.0 238.1 C1429.6 236.7 1418.7 239.3 1407.9 238.1 Z" fill="#97ff60"/>
<path d="M1407.9 246.3 C1397.1 245.1 1385.9 241.5 1375.3 239.2 C1364.7 236.8 1354.6 234.4 1344.2 232.2 C1333.9 229.9 1323.5 227.6 1313.2 225.6 C1302.8 223.7 1292.5 221.7 1282.1 220.5 C1271.8 219.3 1261.4 218.7 1251.1 218.3 C1240.7 218.0 1229.1 218.1 1220.0 218.3 C1210.9 218.6 1206.0 219.1 1196.2 219.8 C1186.4 220.5 1172.9 221.2 1161.3 222.6 C1149.6 224.0 1136.8 225.7 1126.3 228.0 C1115.9 230.2 1107.7 232.8 1098.4 236.1 C1089.1 239.4 1079.4 243.5 1070.4 247.8 C1061.5 252.0 1052.2 257.1 1044.8 261.7 C1037.4 266.4 1031.2 271.0 1026.2 275.7 C1021.1 280.4 1016.3 285.8 1014.5 289.7 C1012.8 293.6 1013.4 295.5 1015.7 299.0 C1018.0 302.5 1023.3 306.8 1028.5 310.6 C1033.8 314.5 1040.9 318.4 1047.1 322.3 C1053.4 326.2 1060.3 330.1 1065.8 333.9 C1071.2 337.8 1074.9 342.2 1079.8 345.6 C1084.6 348.9 1088.7 351.1 1095.1 354.1 C1101.5 357.0 1109.8 360.7 1118.4 363.4 C1126.9 366.1 1137.0 368.4 1146.3 370.4 C1155.7 372.3 1165.0 374.2 1174.3 375.0 C1183.6 375.8 1193.3 375.6 1202.2 375.0 C1211.2 374.4 1220.3 373.2 1227.9 371.5 C1235.4 369.9 1240.4 367.5 1247.5 365.1 C1254.7 362.8 1264.3 359.6 1270.8 357.4 C1277.3 355.2 1281.5 353.8 1286.3 351.9 C1291.2 350.1 1295.5 347.6 1300.0 346.5 C1304.5 345.5 1307.1 346.4 1313.2 345.6 C1319.2 344.9 1328.7 342.8 1336.5 342.1 C1344.2 341.4 1352.0 341.4 1359.8 341.5 C1367.5 341.5 1375.0 341.9 1383.0 342.5 C1391.1 343.1 1398.4 344.6 1407.9 345.0 C1417.4 345.4 1429.6 346.4 1440.0 345.0 C1450.4 343.7 1464.2 345.2 1470.0 337.0 C1475.8 328.8 1475.0 309.4 1475.0 295.7 C1475.0 281.9 1475.8 262.5 1470.0 254.3 C1464.2 246.1 1450.4 247.6 1440.0 246.3 C1429.6 245.0 1418.7 247.5 1407.9 246.3 Z" fill="#caff2c"/>
<path d="M1407.9 253.6 C1397.1 252.4 1385.9 248.9 1375.3 246.6 C1364.7 244.3 1354.6 242.1 1344.2 239.9 C1333.9 237.7 1323.5 235.3 1313.2 233.4 C1302.8 231.5 1292.5 229.5 1282.1 228.3 C1271.8 227.0 1261.4 226.4 1251.1 226.0 C1240.7 225.5 1229.1 225.4 1220.0 225.6 C1210.9 225.9 1206.0 226.3 1196.2 227.3 C1186.4 228.2 1172.1 229.8 1161.3 231.5 C1150.4 233.1 1139.9 234.9 1131.0 237.3 C1122.1 239.6 1114.3 242.7 1107.7 245.4 C1101.1 248.1 1095.5 250.5 1091.4 253.6 C1087.3 256.7 1084.2 260.4 1083.2 264.1 C1082.3 267.7 1083.6 272.2 1085.6 275.7 C1087.5 279.2 1092.6 281.9 1094.9 285.0 C1097.2 288.1 1099.7 290.8 1099.5 294.3 C1099.4 297.8 1095.7 302.1 1093.7 306.0 C1091.8 309.9 1088.7 313.4 1087.9 317.6 C1087.1 321.9 1087.3 326.9 1089.1 331.6 C1090.8 336.3 1094.3 342.2 1098.4 345.6 C1102.5 348.9 1108.1 349.5 1113.7 351.7 C1119.4 353.9 1126.1 356.6 1132.4 358.7 C1138.6 360.9 1144.0 363.0 1151.0 364.5 C1158.0 366.1 1165.7 367.5 1174.3 368.0 C1182.8 368.6 1193.3 368.6 1202.2 368.0 C1211.2 367.5 1221.6 366.1 1227.9 364.5 C1234.1 363.0 1234.7 360.9 1239.8 358.9 C1244.8 357.0 1253.2 354.7 1258.4 352.7 C1263.6 350.8 1266.1 349.1 1270.8 347.3 C1275.5 345.5 1281.5 343.5 1286.3 341.9 C1291.2 340.2 1295.5 338.5 1300.0 337.2 C1304.5 335.9 1308.4 334.9 1313.2 334.0 C1318.0 333.1 1322.2 332.2 1328.7 331.7 C1335.2 331.2 1344.2 330.8 1352.0 330.9 C1359.8 331.0 1366.0 331.5 1375.3 332.1 C1384.6 332.7 1397.1 334.1 1407.9 334.5 C1418.7 334.9 1429.6 335.8 1440.0 334.5 C1450.4 333.1 1464.2 333.2 1470.0 326.5 C1475.8 319.7 1475.0 304.8 1475.0 294.0 C1475.0 283.2 1475.8 268.3 1470.0 261.6 C1464.2 254.9 1450.4 254.9 1440.0 253.6 C1429.6 252.3 1418.7 254.8 1407.9 253.6 Z" fill="#feed00"/>
<path d="M1407.9 262.1 C1397.1 260.9 1385.9 257.1 1375.3 254.7 C1364.7 252.2 1354.6 249.6 1344.2 247.4 C1333.9 245.1 1323.5 243.0 1313.2 241.2 C1302.8 239.4 1292.5 237.7 1282.1 236.5 C1271.8 235.3 1261.4 234.6 1251.1 234.2 C1240.7 233.7 1227.2 233.9 1220.0 233.9 C1212.8 233.8 1215.7 233.5 1207.9 233.8 C1200.0 234.1 1183.4 234.7 1172.9 235.6 C1162.4 236.6 1152.7 237.8 1145.0 239.6 C1137.2 241.4 1130.8 244.1 1126.3 246.6 C1121.9 249.1 1118.6 251.4 1118.2 254.7 C1117.8 258.0 1120.3 263.3 1124.0 266.4 C1127.7 269.5 1133.7 271.2 1140.3 273.4 C1146.9 275.5 1155.8 277.5 1163.6 279.2 C1171.4 280.9 1181.1 282.3 1186.9 283.9 C1192.7 285.4 1195.5 286.8 1198.5 288.5 C1201.6 290.3 1205.1 292.4 1205.1 294.3 C1205.1 296.3 1200.5 298.1 1198.5 300.2 C1196.6 302.3 1196.1 305.0 1193.2 306.9 C1190.2 308.8 1185.9 310.3 1180.7 311.6 C1175.6 312.8 1168.8 313.4 1162.1 314.4 C1155.4 315.4 1146.1 316.1 1140.4 317.5 C1134.7 318.8 1131.4 320.2 1128.0 322.4 C1124.5 324.7 1120.0 328.1 1119.7 331.0 C1119.5 333.8 1123.5 336.8 1126.4 339.5 C1129.3 342.2 1133.1 345.0 1137.3 347.3 C1141.4 349.6 1145.8 351.8 1151.2 353.5 C1156.7 355.2 1162.9 356.6 1169.9 357.4 C1176.9 358.2 1185.4 358.4 1193.2 358.2 C1200.9 357.9 1209.2 357.0 1216.5 355.8 C1223.7 354.7 1230.7 352.9 1236.6 351.2 C1242.6 349.5 1247.5 347.9 1252.2 345.7 C1256.8 343.5 1261.2 340.8 1264.6 338.0 C1268.0 335.1 1270.0 331.5 1272.4 328.7 C1274.7 325.8 1275.7 322.8 1278.6 320.9 C1281.4 319.0 1285.9 317.8 1289.4 317.0 C1293.0 316.2 1293.5 316.2 1300.0 315.9 C1306.5 315.6 1318.7 315.1 1328.7 315.4 C1338.7 315.7 1349.4 316.6 1359.8 317.7 C1370.1 318.8 1382.8 320.8 1390.8 321.9 C1398.8 323.0 1399.7 324.0 1407.9 324.4 C1416.1 324.8 1429.6 325.7 1440.0 324.4 C1450.4 323.0 1464.2 321.6 1470.0 316.4 C1475.8 311.2 1475.0 301.0 1475.0 293.3 C1475.0 285.5 1475.8 275.3 1470.0 270.1 C1464.2 264.9 1450.4 263.5 1440.0 262.1 C1429.6 260.8 1418.7 263.4 1407.9 262.1 Z" fill="#ffb200"/>
<path d="M1407.9 271.5 C1397.1 270.2 1385.9 266.3 1375.3 263.7 C1364.7 261.1 1354.6 258.3 1344.2 255.9 C1333.9 253.6 1323.5 251.5 1313.2 249.7 C1302.8 248.0 1292.5 246.3 1282.1 245.4 C1271.8 244.4 1261.4 244.1 1251.1 243.8 C1240.7 243.5 1229.1 243.2 1220.0 243.5 C1210.9 243.8 1203.3 244.5 1196.2 245.4 C1189.1 246.3 1182.4 247.2 1177.6 248.9 C1172.7 250.7 1167.9 253.8 1167.1 255.9 C1166.3 258.0 1168.8 260.0 1172.9 261.7 C1177.0 263.5 1184.6 264.6 1191.6 266.4 C1198.5 268.1 1210.1 270.7 1214.8 272.2 C1219.6 273.7 1215.3 274.2 1220.0 275.3 C1224.7 276.5 1235.5 277.4 1243.3 279.2 C1251.1 281.0 1258.8 283.6 1266.6 286.2 C1274.3 288.8 1282.1 292.2 1289.9 294.7 C1297.6 297.3 1304.1 299.7 1313.2 301.7 C1322.2 303.8 1333.9 305.7 1344.2 307.2 C1354.6 308.6 1364.7 309.4 1375.3 310.3 C1385.9 311.2 1397.1 312.2 1407.9 312.6 C1418.7 313.0 1429.6 313.9 1440.0 312.6 C1450.4 311.3 1464.2 308.0 1470.0 304.6 C1475.8 301.2 1475.0 296.2 1475.0 292.0 C1475.0 287.8 1475.8 282.9 1470.0 279.5 C1464.2 276.0 1450.4 272.8 1440.0 271.5 C1429.6 270.1 1418.7 272.7 1407.9 271.5 Z" fill="#ff7700"/>
<path d="M1168.3 334.9 C1169.6 333.3 1176.6 332.0 1180.7 331.0 C1184.9 329.9 1189.0 328.7 1193.2 328.7 C1197.3 328.7 1201.2 329.6 1205.6 331.0 C1209.9 332.4 1218.7 335.3 1219.3 336.9 C1219.8 338.4 1212.5 339.1 1208.7 340.3 C1204.9 341.5 1200.4 343.4 1196.3 344.2 C1192.1 345.0 1187.7 345.6 1183.9 345.0 C1180.0 344.3 1175.6 342.0 1173.0 340.3 C1170.4 338.6 1167.0 336.4 1168.3 334.9 Z" fill="#ff7700"/>
<path d="M1282.9 262.9 C1283.9 260.7 1287.9 259.7 1293.0 259.0 C1298.0 258.3 1305.9 258.2 1313.2 258.7 C1320.4 259.2 1328.7 260.5 1336.5 262.1 C1344.2 263.7 1352.0 265.9 1359.8 268.3 C1367.5 270.8 1377.1 274.3 1383.0 276.9 C1389.0 279.5 1392.5 281.7 1395.5 283.9 C1398.4 286.1 1401.7 287.9 1400.9 290.1 C1400.1 292.3 1396.4 295.9 1390.8 297.1 C1385.2 298.2 1375.3 297.6 1367.5 297.1 C1359.8 296.6 1352.0 295.4 1344.2 294.0 C1336.5 292.5 1328.2 290.7 1320.9 288.5 C1313.7 286.3 1306.4 283.5 1300.7 280.8 C1295.1 278.1 1289.7 275.2 1286.8 272.2 C1283.8 269.3 1281.9 265.1 1282.9 262.9 Z" fill="#ff3b00"/>
<use href="#coast"/>
</g>
<rect class="fr" x="78.4" y="0" width="1331.0" height="656.0"/>
<rect x="78.40" y="699.0" width="83.79" height="66.0" fill="#0000a4"/>
<rect x="161.59" y="699.0" width="83.79" height="66.0" fill="#0000ed"/>
<rect x="244.78" y="699.0" width="83.79" height="66.0" fill="#0020ff"/>
<rect x="327.96" y="699.0" width="83.79" height="66.0" fill="#0060ff"/>
<rect x="411.15" y="699.0" width="83.79" height="66.0" fill="#00a0ff"/>
<rect x="494.34" y="699.0" width="83.79" height="66.0" fill="#00e0fb"/>
<rect x="577.52" y="699.0" width="83.79" height="66.0" fill="#30ffc7"/>
<rect x="660.71" y="699.0" width="83.79" height="66.0" fill="#63ff94"/>
<rect x="743.90" y="699.0" width="83.79" height="66.0" fill="#97ff60"/>
<rect x="827.09" y="699.0" width="83.79" height="66.0" fill="#caff2c"/>
<rect x="910.27" y="699.0" width="83.79" height="66.0" fill="#feed00"/>
<rect x="993.46" y="699.0" width="83.79" height="66.0" fill="#ffb200"/>
<rect x="1076.65" y="699.0" width="83.79" height="66.0" fill="#ff7700"/>
<rect x="1159.84" y="699.0" width="83.79" height="66.0" fill="#ff3b00"/>
<rect x="1243.03" y="699.0" width="83.79" height="66.0" fill="#e80000"/>
<rect x="1326.21" y="699.0" width="83.19" height="66.0" fill="#9f0000"/>
<rect class="fr" x="78.4" y="699.0" width="1331.0" height="66.0"/>
<line class="tk" x1="78.4" y1="765.0" x2="78.4" y2="780.5"/>
<text transform="translate(66.10 826.50) scale(0.9875 1)" font-size="44.60" xml:space="preserve">0</text>
<line class="tk" x1="244.8" y1="765.0" x2="244.8" y2="780.5"/>
<text transform="translate(233.10 826.50) scale(0.9288 1)" font-size="44.60" xml:space="preserve">5</text>
<line class="tk" x1="411.1" y1="765.0" x2="411.1" y2="780.5"/>
<text transform="translate(385.80 826.50) scale(1.0262 1)" font-size="44.60" xml:space="preserve">10</text>
<line class="tk" x1="577.5" y1="765.0" x2="577.5" y2="780.5"/>
<text transform="translate(552.23 826.50) scale(1.0100 1)" font-size="44.60" xml:space="preserve">15</text>
<line class="tk" x1="743.9" y1="765.0" x2="743.9" y2="780.5"/>
<text transform="translate(718.11 826.50) scale(1.0354 1)" font-size="44.60" xml:space="preserve">20</text>
<line class="tk" x1="910.3" y1="765.0" x2="910.3" y2="780.5"/>
<text transform="translate(884.52 826.50) scale(1.0196 1)" font-size="44.60" xml:space="preserve">25</text>
<line class="tk" x1="1076.7" y1="765.0" x2="1076.7" y2="780.5"/>
<text transform="translate(1051.57 826.50) scale(1.0207 1)" font-size="44.60" xml:space="preserve">30</text>
<line class="tk" x1="1243.0" y1="765.0" x2="1243.0" y2="780.5"/>
<text transform="translate(1217.97 826.50) scale(1.0050 1)" font-size="44.60" xml:space="preserve">35</text>
<line class="tk" x1="1409.4" y1="765.0" x2="1409.4" y2="780.5"/>
<text transform="translate(1383.95 826.50) scale(1.0283 1)" font-size="44.60" xml:space="preserve">40</text>
<text transform="translate(258.74 -24.80) scale(1.0506 1)" font-size="53.00" xml:space="preserve">Combined (GIM), 2020-04-24 05:00 UT</text>
</g>

<g transform="translate(0 1117.5)">
<g clip-path="url(#mc)">
<rect x="78.4" y="0" width="1331.0" height="656.0" fill="#0020ff"/>
<path d="M78.4 510.8 C85.2 509.2 84.9 505.3 88.6 501.4 C92.4 497.6 98.5 492.4 101.1 487.5 C103.6 482.6 104.4 477.1 104.2 471.9 C103.9 466.8 102.1 462.1 99.5 456.4 C96.9 450.7 91.5 443.5 88.6 437.8 C85.8 432.1 82.9 426.7 82.4 422.3 C81.9 417.9 82.4 414.7 85.5 411.4 C88.6 408.0 93.3 404.1 101.1 402.1 C108.8 400.0 121.8 400.8 132.1 399.0 C142.5 397.1 152.8 394.6 163.2 391.2 C173.5 387.8 183.9 383.4 194.2 378.8 C204.6 374.1 216.0 368.9 225.3 363.2 C234.6 357.6 243.9 350.3 250.1 344.6 C256.3 338.9 260.0 334.3 262.5 329.1 C265.1 323.9 265.7 318.4 265.7 313.6 C265.7 308.7 264.4 305.8 262.5 300.0 C260.7 294.1 256.7 285.5 254.8 278.2 C252.8 271.0 250.5 263.2 250.7 256.5 C251.0 249.7 253.3 243.5 256.3 237.8 C259.3 232.1 264.1 228.0 268.8 222.3 C273.4 216.6 280.9 209.9 284.3 203.7 C287.7 197.5 288.9 191.3 288.9 185.0 C288.9 178.8 287.1 172.6 284.3 166.4 C281.4 160.2 275.6 155.0 271.9 147.8 C268.1 140.5 263.2 131.2 261.6 122.9 C260.1 114.7 260.8 105.3 262.5 98.1 C264.3 90.8 266.7 84.4 271.9 79.5 C277.0 74.5 283.3 71.4 293.6 68.6 C304.0 65.7 316.2 67.3 334.0 62.4 C351.7 57.5 378.6 42.6 400.0 39.1 C421.4 35.6 441.4 41.1 462.1 41.6 C482.8 42.1 503.5 41.5 524.2 42.2 C544.9 42.9 565.6 44.1 586.3 45.9 C607.0 47.7 627.7 50.3 648.4 53.1 C669.2 55.8 692.4 59.5 710.6 62.4 C728.7 65.2 748.6 69.1 757.1 70.1 C765.7 71.2 757.8 67.9 761.7 68.6 C765.7 69.2 775.3 71.3 780.8 74.0 C786.2 76.7 791.4 80.4 794.3 84.9 C797.3 89.4 798.0 95.8 798.4 101.2 C798.9 106.6 796.6 112.1 797.1 117.5 C797.5 122.9 798.9 128.4 801.1 133.8 C803.4 139.2 806.8 144.7 810.7 150.1 C814.5 155.5 821.1 161.0 824.2 166.4 C827.4 171.8 829.7 177.3 829.7 182.7 C829.7 188.2 826.1 193.6 824.2 199.0 C822.4 204.5 819.7 209.9 818.8 215.3 C817.9 220.8 817.9 225.7 818.8 231.6 C819.7 237.5 821.5 244.8 824.2 250.7 C827.0 256.5 832.2 261.5 835.1 267.0 C838.1 272.4 840.8 279.5 841.9 283.3 C843.0 287.0 840.8 283.7 841.9 289.2 C843.0 294.8 845.8 307.8 848.7 316.4 C851.6 325.0 855.9 333.6 859.6 340.9 C863.2 348.1 867.5 354.0 870.4 359.9 C873.4 365.8 875.4 370.3 877.2 376.2 C879.0 382.1 879.7 388.9 881.3 395.2 C882.9 401.6 883.6 408.8 886.7 414.2 C889.9 419.7 896.5 422.8 900.3 427.8 C904.2 432.8 908.3 438.2 909.8 444.1 C911.4 450.0 910.7 456.8 909.8 463.2 C908.9 469.5 904.6 476.7 904.4 482.2 C904.2 487.6 905.5 491.7 908.5 495.8 C911.4 499.8 916.2 503.2 922.1 506.6 C928.0 510.0 936.6 512.7 943.8 516.1 C951.1 519.5 958.8 522.7 965.5 527.0 C972.3 531.3 978.7 537.2 984.6 542.0 C990.5 546.7 995.4 551.0 1000.9 555.5 C1006.3 560.1 1010.8 565.1 1017.2 569.5 C1023.5 573.8 1030.8 578.5 1038.9 581.7 C1047.1 584.9 1056.4 587.2 1066.1 588.5 C1075.8 589.8 1087.5 589.9 1097.2 589.6 C1106.9 589.4 1115.3 588.3 1124.3 586.9 C1133.4 585.5 1140.2 583.5 1151.5 581.5 C1162.8 579.4 1178.7 576.5 1192.3 574.7 C1205.9 572.9 1219.5 571.7 1233.0 570.6 C1246.6 569.5 1260.2 568.8 1273.8 567.9 C1287.4 567.0 1301.0 566.5 1314.6 565.2 C1328.2 563.8 1344.0 561.8 1355.3 559.7 C1366.6 557.7 1374.8 555.2 1382.5 552.9 C1390.2 550.7 1397.0 548.0 1401.5 546.1 C1406.0 544.3 1403.0 542.7 1409.4 542.1 C1415.8 541.4 1429.9 540.4 1440.0 542.1 C1450.1 543.7 1465.0 522.4 1470.0 552.1 C1475.0 581.7 1598.3 688.7 1470.0 720.0 C1341.7 751.3 941.7 740.0 700.0 740.0 C458.3 740.0 133.3 756.5 20.0 720.0 C-93.3 683.5 15.3 555.6 20.0 520.8 C24.7 485.9 38.3 512.4 48.0 510.8 C57.7 509.1 71.6 512.3 78.4 510.8 Z" fill="#0000ed"/>
<path d="M380.6 82.6 C375.5 86.6 371.0 92.4 369.7 98.1 C368.4 103.8 370.5 110.0 372.8 116.7 C375.1 123.5 379.8 131.2 383.7 138.5 C387.5 145.7 393.2 154.0 396.1 160.2 C398.9 166.4 401.3 171.1 400.7 175.7 C400.2 180.4 398.4 184.3 393.0 188.2 C387.5 192.0 378.0 195.4 368.1 199.0 C358.3 202.6 343.3 206.0 334.0 209.9 C324.7 213.8 319.0 217.7 312.2 222.3 C305.5 227.0 298.3 232.1 293.6 237.8 C288.9 243.5 285.3 250.3 284.3 256.5 C283.3 262.7 283.8 269.4 287.4 275.1 C291.0 280.8 299.3 285.5 306.0 290.6 C312.8 295.8 321.6 301.0 327.8 306.2 C334.0 311.3 339.9 318.4 343.3 321.7 C346.7 325.0 347.2 323.5 348.0 326.0 C348.7 328.5 350.3 334.3 348.0 336.8 C345.6 339.4 339.9 338.9 334.0 341.5 C328.0 344.1 320.0 348.5 312.2 352.4 C304.5 356.3 296.7 360.4 287.4 364.8 C278.1 369.2 267.7 373.9 256.3 378.8 C244.9 383.7 230.5 389.6 219.1 394.3 C207.7 399.0 197.3 402.6 188.0 406.7 C178.7 410.9 169.0 415.0 163.2 419.1 C157.4 423.3 154.3 426.9 153.2 431.6 C152.2 436.2 153.7 442.4 157.0 447.1 C160.2 451.8 165.2 455.9 172.5 459.5 C179.7 463.1 190.6 465.7 200.4 468.8 C210.3 471.9 223.7 475.0 231.5 478.2 C239.3 481.3 243.7 484.4 247.0 487.5 C250.4 490.6 253.2 494.7 251.7 496.8 C250.1 498.9 244.7 498.6 237.7 499.9 C230.7 501.2 217.0 502.5 209.8 504.5 C202.5 506.6 197.4 509.2 194.2 512.3 C191.0 515.4 190.5 519.0 190.5 523.2 C190.5 527.3 192.6 532.2 194.2 537.2 C195.9 542.1 199.4 548.0 200.4 552.7 C201.5 557.3 202.0 561.2 200.4 565.1 C198.9 569.0 196.3 572.6 191.1 576.0 C185.9 579.3 178.2 582.4 169.4 585.3 C160.6 588.1 148.7 590.7 138.3 593.1 C128.0 595.4 117.3 597.1 107.3 599.3 C97.3 601.4 88.3 605.0 78.4 606.1 C68.5 607.2 57.7 604.4 48.0 606.1 C38.3 607.8 24.7 597.1 20.0 616.1 C15.3 635.1 -93.3 699.4 20.0 720.0 C133.3 740.6 458.3 740.0 700.0 740.0 C941.7 740.0 1341.7 739.8 1470.0 720.0 C1598.3 700.2 1475.0 639.5 1470.0 621.4 C1465.0 603.3 1450.1 613.0 1440.0 611.4 C1429.9 609.7 1419.0 610.5 1409.4 611.4 C1399.8 612.3 1393.8 614.8 1382.5 616.8 C1371.2 618.8 1357.6 621.3 1341.7 623.6 C1325.9 625.9 1305.5 628.6 1287.4 630.4 C1269.3 632.2 1251.2 633.6 1233.0 634.5 C1214.9 635.4 1196.8 635.7 1178.7 635.8 C1160.6 636.0 1142.5 635.7 1124.3 635.3 C1106.2 634.8 1082.0 634.1 1070.0 633.1 C1058.0 632.1 1062.2 630.8 1052.5 629.2 C1042.8 627.7 1024.0 625.6 1011.7 623.8 C999.5 622.0 990.0 620.9 979.1 618.4 C968.3 615.9 955.6 612.0 946.5 608.9 C937.5 605.7 930.7 603.0 924.8 599.3 C918.9 595.7 914.6 591.6 911.2 587.1 C907.8 582.6 906.9 577.6 904.4 572.2 C901.9 566.7 900.1 559.9 896.2 554.5 C892.4 549.1 887.4 544.8 881.3 539.6 C875.2 534.4 866.4 528.5 859.6 523.3 C852.8 518.1 845.3 512.8 840.5 508.3 C835.8 503.8 833.1 498.6 831.0 496.1 C829.0 493.5 827.9 496.7 828.3 493.0 C828.8 489.4 832.4 480.8 833.8 474.0 C835.1 467.2 836.9 459.5 836.5 452.3 C836.0 445.0 832.6 437.3 831.0 430.5 C829.4 423.7 827.4 417.9 827.0 411.5 C826.5 405.2 827.9 399.3 828.3 392.5 C828.8 385.7 830.4 378.5 829.7 370.8 C829.0 363.1 827.0 354.5 824.2 346.3 C821.5 338.2 817.9 333.7 813.4 321.8 C808.8 310.0 801.1 286.5 797.1 275.1 C793.0 263.7 792.1 260.6 788.9 253.4 C785.7 246.1 781.2 238.9 778.0 231.6 C774.9 224.4 772.6 216.2 769.9 209.9 C767.2 203.6 764.9 199.0 761.7 193.6 C758.6 188.2 754.5 181.8 750.9 177.3 C747.2 172.8 743.6 172.9 740.0 166.4 C736.4 159.9 733.6 146.2 729.2 138.5 C724.8 130.7 719.4 125.3 713.7 119.8 C708.0 114.4 702.3 110.0 695.0 105.9 C687.8 101.7 680.5 98.3 670.2 95.0 C659.8 91.6 646.9 88.2 632.9 85.7 C618.9 83.2 604.5 81.7 586.3 80.1 C568.2 78.4 544.9 77.0 524.2 75.7 C503.5 74.5 482.8 72.9 462.1 72.6 C441.4 72.3 413.6 72.2 400.0 73.9 C386.4 75.5 385.6 78.5 380.6 82.6 Z" fill="#0000a4"/>
<path d="M369.7 344.6 C370.2 342.5 375.6 340.2 380.6 340.0 C385.5 339.7 393.5 341.2 399.2 343.1 C404.9 344.9 411.1 348.5 414.7 350.8 C418.3 353.2 421.4 355.2 420.9 357.0 C420.4 358.8 416.3 361.2 411.6 361.7 C407.0 362.2 398.7 361.7 393.0 360.1 C387.3 358.6 381.3 355.0 377.5 352.4 C373.6 349.8 369.2 346.7 369.7 344.6 Z" fill="#0000ed"/>
<path d="M312.2 513.9 C314.3 512.3 323.6 511.1 330.9 510.8 C338.1 510.4 347.4 510.9 355.7 511.7 C364.0 512.5 373.3 513.9 380.6 515.4 C387.8 517.0 390.8 519.7 399.2 521.0 C407.6 522.3 420.6 523.6 431.1 523.2 C441.5 522.8 449.2 520.6 462.1 518.5 C475.1 516.5 493.2 512.7 508.7 510.8 C524.2 508.8 539.8 507.6 555.3 506.7 C570.8 505.8 586.3 505.8 601.9 505.5 C617.4 505.1 635.5 505.2 648.4 504.5 C661.4 503.9 670.2 503.3 679.5 501.4 C688.8 499.6 696.1 496.5 704.3 493.7 C712.6 490.8 721.4 486.5 729.2 484.4 C737.0 482.2 744.2 480.6 750.9 480.6 C757.7 480.6 764.6 481.9 769.6 484.4 C774.5 486.8 780.4 491.6 780.4 495.2 C780.4 498.9 776.0 502.5 769.6 506.1 C763.1 509.7 751.4 513.6 741.6 517.0 C731.8 520.3 720.9 523.4 710.6 526.3 C700.2 529.1 689.9 532.0 679.5 534.1 C669.2 536.1 661.4 537.3 648.4 538.7 C635.5 540.2 617.4 542.0 601.9 542.7 C586.3 543.5 570.8 543.7 555.3 543.4 C539.8 543.1 524.2 542.2 508.7 540.9 C493.2 539.6 474.0 537.0 462.1 535.6 C450.2 534.2 444.6 534.1 437.3 532.5 C429.9 530.9 424.7 526.8 417.8 526.3 C411.0 525.8 404.9 528.6 396.1 529.4 C387.3 530.2 375.4 531.2 365.0 530.9 C354.7 530.7 341.7 529.7 334.0 527.8 C326.2 526.0 322.1 522.4 318.4 520.1 C314.8 517.7 310.2 515.4 312.2 513.9 Z" fill="#0000ed"/>
<path d="M78.4 64.5 C87.2 66.3 94.7 71.3 101.1 74.8 C107.4 78.3 114.5 81.8 116.6 85.7 C118.7 89.5 116.6 94.7 113.5 98.1 C110.4 101.5 103.8 103.9 98.0 105.9 C92.1 107.8 86.7 109.2 78.4 109.9 C70.1 110.6 57.7 111.2 48.0 109.9 C38.3 108.6 25.5 105.7 20.0 101.9 C14.5 98.1 15.0 92.1 15.0 87.2 C15.0 82.3 14.5 76.3 20.0 72.5 C25.5 68.8 38.3 65.9 48.0 64.5 C57.7 63.2 69.5 62.8 78.4 64.5 Z" fill="#0060ff"/>
<path d="M78.4 129.1 C87.2 129.4 93.1 131.5 101.1 130.7 C109.0 129.9 117.6 125.8 125.9 124.5 C134.2 123.2 142.5 122.2 150.7 122.9 C159.0 123.7 167.3 125.5 175.6 129.1 C183.9 132.8 192.2 138.5 200.4 144.7 C208.7 150.9 218.6 160.2 225.3 166.4 C232.0 172.6 237.3 177.0 240.8 181.9 C244.3 186.9 246.1 191.3 246.4 195.9 C246.7 200.6 245.4 205.5 242.4 209.9 C239.4 214.3 232.5 218.4 228.4 222.3 C224.2 226.2 219.1 228.5 217.5 233.2 C216.0 237.8 217.5 243.3 219.1 250.3 C220.6 257.3 225.2 266.8 226.8 275.1 C228.5 283.4 229.3 293.0 229.0 300.0 C228.7 306.9 228.5 310.3 225.3 316.7 C222.1 323.1 216.5 331.4 209.8 338.4 C203.0 345.4 194.2 352.9 184.9 358.6 C175.6 364.3 165.2 369.1 153.9 372.6 C142.5 376.0 129.2 378.1 116.6 379.4 C104.0 380.7 89.8 380.2 78.4 380.3 C67.0 380.5 57.7 381.7 48.0 380.3 C38.3 379.0 25.5 393.3 20.0 372.3 C14.5 351.4 15.0 293.9 15.0 254.7 C15.0 215.5 14.5 158.1 20.0 137.1 C25.5 116.2 38.3 130.5 48.0 129.1 C57.7 127.8 69.5 128.9 78.4 129.1 Z" fill="#0060ff"/>
<path d="M78.4 219.2 C88.3 220.2 97.3 222.8 107.3 225.4 C117.3 228.0 128.5 231.1 138.3 234.7 C148.2 238.4 158.0 242.5 166.3 247.2 C174.6 251.8 182.1 257.0 188.0 262.7 C194.0 268.4 198.9 275.1 202.0 281.3 C205.1 287.5 206.6 294.6 206.6 300.0 C206.6 305.3 205.1 308.2 202.0 313.6 C198.9 318.9 194.0 326.5 188.0 332.2 C182.1 337.9 174.6 343.3 166.3 347.7 C158.0 352.1 148.2 355.9 138.3 358.6 C128.5 361.3 117.3 362.8 107.3 363.9 C97.3 364.9 88.3 364.6 78.4 364.8 C68.5 365.0 57.7 366.1 48.0 364.8 C38.3 363.5 25.5 368.9 20.0 356.8 C14.5 344.7 15.0 313.6 15.0 292.0 C15.0 270.4 14.5 239.3 20.0 227.2 C25.5 215.1 38.3 220.5 48.0 219.2 C57.7 217.9 68.5 218.2 78.4 219.2 Z" fill="#00a0ff"/>
<path d="M78.4 237.8 C88.3 238.9 97.3 241.2 107.3 244.1 C117.3 246.9 128.5 250.8 138.3 254.9 C148.2 259.1 158.8 264.0 166.3 268.9 C173.8 273.8 179.6 279.2 183.4 284.4 C187.1 289.6 188.9 295.1 188.9 300.0 C188.9 304.8 186.6 308.7 183.4 313.6 C180.1 318.4 175.3 324.4 169.4 329.1 C163.4 333.7 155.9 338.1 147.6 341.5 C139.4 344.9 131.2 347.5 119.7 349.3 C108.1 351.1 90.3 351.9 78.4 352.4 C66.4 352.9 57.7 353.7 48.0 352.4 C38.3 351.0 25.5 353.9 20.0 344.4 C14.5 334.8 15.0 311.5 15.0 295.1 C15.0 278.7 14.5 255.4 20.0 245.8 C25.5 236.3 38.3 239.2 48.0 237.8 C57.7 236.5 68.5 236.8 78.4 237.8 Z" fill="#00e0fb"/>
<path d="M78.4 248.7 C88.3 249.7 97.8 252.1 107.3 254.9 C116.7 257.8 126.9 261.9 135.2 265.8 C143.5 269.7 151.4 273.8 157.0 278.2 C162.5 282.6 166.6 288.0 168.8 292.2 C170.9 296.3 170.4 300.0 170.0 303.1 C169.6 306.1 169.2 306.9 166.3 310.5 C163.3 314.0 158.0 320.5 152.3 324.4 C146.6 328.3 139.6 331.3 132.1 333.7 C124.6 336.2 116.2 337.9 107.3 339.0 C98.3 340.2 88.3 340.3 78.4 340.6 C68.5 340.8 57.7 341.9 48.0 340.6 C38.3 339.2 25.5 340.2 20.0 332.6 C14.5 324.9 15.0 307.3 15.0 294.6 C15.0 282.0 14.5 264.4 20.0 256.7 C25.5 249.1 38.3 250.0 48.0 248.7 C57.7 247.4 68.5 247.7 78.4 248.7 Z" fill="#30ffc7"/>
<path d="M78.4 259.6 C87.2 260.6 93.7 263.5 101.1 265.8 C108.5 268.1 116.3 270.2 122.8 273.6 C129.3 276.9 136.0 281.8 139.9 286.0 C143.8 290.1 145.8 294.8 146.1 298.4 C146.3 302.0 144.8 304.0 141.4 307.3 C138.1 310.6 132.1 315.1 125.9 318.2 C119.7 321.3 112.1 323.9 104.2 326.0 C96.2 328.0 87.7 329.9 78.4 330.6 C69.0 331.4 57.7 332.0 48.0 330.6 C38.3 329.3 25.5 328.6 20.0 322.6 C14.5 316.7 15.0 304.3 15.0 295.1 C15.0 285.9 14.5 273.5 20.0 267.6 C25.5 261.7 38.3 260.9 48.0 259.6 C57.7 258.2 69.5 258.5 78.4 259.6 Z" fill="#63ff94"/>
<path d="M78.4 270.5 C85.7 271.5 87.4 273.8 91.7 276.7 C96.0 279.5 101.3 284.2 104.2 287.5 C107.0 290.9 109.1 294.1 108.8 296.8 C108.6 299.6 105.7 301.7 102.6 304.2 C99.5 306.8 94.2 310.0 90.2 312.0 C86.1 314.0 85.4 315.4 78.4 316.0 C71.4 316.7 57.7 317.4 48.0 316.0 C38.3 314.7 25.5 311.8 20.0 308.0 C14.5 304.2 15.0 298.2 15.0 293.2 C15.0 288.3 14.5 282.2 20.0 278.5 C25.5 274.7 38.3 271.8 48.0 270.5 C57.7 269.1 71.1 269.4 78.4 270.5 Z" fill="#97ff60"/>
<path d="M1409.4 59.1 C1397.6 57.9 1382.5 54.5 1368.9 52.3 C1355.4 50.0 1344.0 47.8 1328.2 45.5 C1312.3 43.2 1291.9 40.3 1273.8 38.7 C1255.7 37.1 1237.6 36.5 1219.5 36.0 C1201.3 35.4 1183.2 35.2 1165.1 35.4 C1147.0 35.7 1129.5 35.7 1110.8 37.3 C1092.0 39.0 1069.0 43.2 1052.5 45.5 C1036.0 47.8 1023.1 48.4 1011.7 50.9 C1000.4 53.4 991.8 56.6 984.6 60.4 C977.3 64.3 972.3 69.0 968.3 74.0 C964.2 79.0 962.4 85.3 960.1 90.3 C957.8 95.3 957.8 99.4 954.7 103.9 C951.5 108.4 946.1 113.0 941.1 117.5 C936.1 122.0 928.9 126.6 924.8 131.1 C920.7 135.6 918.4 139.7 916.6 144.7 C914.8 149.7 913.9 155.1 913.9 161.0 C913.9 166.9 914.8 174.6 916.6 180.0 C918.4 185.4 920.7 189.7 924.8 193.6 C928.9 197.4 935.7 200.6 941.1 203.1 C946.5 205.6 952.6 206.5 957.4 208.5 C962.1 210.6 967.6 212.8 969.6 215.3 C971.7 217.8 971.7 220.8 969.6 223.5 C967.6 226.2 962.1 228.7 957.4 231.6 C952.6 234.6 946.5 237.5 941.1 241.1 C935.7 244.8 930.2 248.6 924.8 253.4 C919.3 258.1 912.6 264.2 908.5 269.7 C904.4 275.1 902.4 280.5 900.3 286.0 C898.3 291.5 896.2 296.8 896.2 302.8 C896.2 308.8 897.4 316.0 900.3 321.8 C903.3 327.7 908.0 332.7 913.9 338.2 C919.8 343.6 928.9 349.5 935.7 354.5 C942.4 359.4 948.8 363.5 954.7 368.0 C960.6 372.6 967.1 377.1 971.0 381.6 C974.8 386.2 976.9 389.8 977.8 395.2 C978.7 400.7 975.7 408.4 976.4 414.2 C977.1 420.1 979.1 425.1 981.8 430.5 C984.6 436.0 987.7 441.9 992.7 446.8 C997.7 451.8 1004.9 456.6 1011.7 460.4 C1018.5 464.3 1026.2 467.0 1033.5 469.9 C1040.7 472.9 1048.4 475.6 1055.2 478.1 C1062.0 480.6 1069.5 481.9 1074.2 484.9 C1079.0 487.8 1083.3 491.7 1083.8 495.8 C1084.2 499.8 1079.4 504.6 1077.0 509.3 C1074.5 514.1 1069.3 519.8 1068.8 524.3 C1068.4 528.8 1070.4 533.6 1074.2 536.5 C1078.1 539.5 1083.4 540.1 1091.7 542.1 C1100.1 544.0 1112.1 546.9 1124.3 548.0 C1136.6 549.2 1151.5 549.4 1165.1 548.9 C1178.7 548.3 1193.6 546.6 1205.9 544.8 C1218.1 543.0 1229.4 540.3 1238.5 538.0 C1247.5 535.7 1254.1 533.7 1260.2 531.2 C1266.3 528.7 1271.8 526.7 1275.2 523.0 C1278.6 519.4 1278.6 513.3 1280.6 509.5 C1282.6 505.6 1283.5 502.9 1287.4 499.9 C1291.2 497.0 1296.9 494.3 1303.7 491.8 C1310.5 489.3 1319.5 487.5 1328.2 485.0 C1336.8 482.5 1348.1 479.8 1355.3 476.8 C1362.6 473.9 1367.1 471.0 1371.6 467.3 C1376.2 463.7 1380.2 459.2 1382.5 455.1 C1384.8 451.0 1386.1 447.0 1385.2 442.9 C1384.3 438.8 1380.2 434.1 1377.1 430.7 C1373.9 427.2 1369.8 424.7 1366.2 422.4 C1362.5 420.2 1358.5 419.2 1355.2 417.0 C1351.8 414.8 1348.2 411.6 1346.1 409.1 C1344.1 406.7 1341.3 404.6 1342.8 402.4 C1344.3 400.1 1349.3 397.9 1355.2 395.6 C1361.0 393.4 1368.6 391.1 1377.7 388.9 C1386.7 386.6 1399.0 383.3 1409.4 382.1 C1419.8 381.0 1429.9 383.5 1440.0 382.1 C1450.1 380.8 1464.2 401.0 1470.0 374.1 C1475.8 347.2 1475.0 271.8 1475.0 220.6 C1475.0 169.4 1475.8 94.0 1470.0 67.1 C1464.2 40.2 1450.1 60.4 1440.0 59.1 C1429.9 57.7 1421.2 60.2 1409.4 59.1 Z" fill="#0060ff"/>
<path d="M1407.9 216.0 C1399.7 215.5 1396.2 214.2 1390.8 212.9 C1385.4 211.6 1380.5 209.9 1375.3 208.2 C1370.1 206.5 1364.9 204.8 1359.8 202.8 C1354.6 200.7 1348.4 198.4 1344.2 195.8 C1340.1 193.2 1334.9 190.0 1334.9 187.3 C1334.9 184.5 1340.6 181.8 1344.2 179.5 C1347.8 177.2 1353.2 175.2 1356.6 173.3 C1360.1 171.3 1365.1 170.3 1364.8 167.8 C1364.6 165.3 1363.7 160.8 1355.3 158.3 C1346.9 155.8 1328.2 154.9 1314.6 152.8 C1301.0 150.8 1287.4 147.9 1273.8 146.0 C1260.2 144.1 1246.6 142.5 1233.0 141.4 C1219.5 140.3 1205.9 139.1 1192.3 139.2 C1178.7 139.3 1163.3 140.2 1151.5 142.0 C1139.7 143.7 1121.9 146.6 1121.6 149.6 C1121.3 152.5 1141.1 156.7 1149.6 159.5 C1158.2 162.3 1166.7 164.0 1172.9 166.5 C1179.1 169.0 1183.4 172.3 1186.9 174.6 C1190.4 177.0 1193.9 179.1 1193.9 180.5 C1193.9 181.8 1192.3 181.8 1186.9 182.8 C1181.5 183.7 1171.4 184.7 1161.3 186.3 C1151.2 187.8 1138.4 189.8 1126.3 192.1 C1114.3 194.4 1100.7 197.1 1089.1 200.2 C1077.4 203.4 1066.6 207.0 1056.5 210.7 C1046.4 214.4 1037.4 218.1 1028.5 222.4 C1019.6 226.6 1011.0 231.7 1002.9 236.4 C994.7 241.0 987.0 245.7 979.6 250.3 C972.2 255.0 965.2 259.6 958.6 264.3 C952.0 269.0 944.7 275.0 940.0 278.3 C935.3 281.5 932.1 279.7 930.2 283.8 C928.4 287.9 928.0 296.9 928.9 302.8 C929.8 308.7 930.7 313.8 935.7 319.1 C940.6 324.5 950.9 330.2 958.6 334.8 C966.3 339.3 973.4 342.4 981.9 346.4 C990.5 350.5 1000.6 355.2 1009.9 359.2 C1019.2 363.3 1028.5 367.2 1037.8 370.9 C1047.1 374.6 1057.2 378.3 1065.8 381.4 C1074.3 384.5 1084.2 387.6 1089.1 389.5 C1093.9 391.5 1094.9 391.5 1094.9 393.0 C1094.9 394.6 1093.1 397.3 1089.1 398.8 C1085.0 400.4 1076.6 400.8 1070.4 402.3 C1064.2 403.9 1056.5 405.6 1051.8 408.2 C1047.1 410.7 1044.6 414.0 1042.5 417.5 C1040.3 421.0 1039.0 425.2 1039.0 429.1 C1039.0 433.0 1040.0 436.9 1042.5 440.8 C1045.0 444.6 1049.1 449.1 1054.1 452.4 C1059.2 455.7 1065.4 458.8 1072.8 460.6 C1080.1 462.3 1089.5 462.9 1098.4 462.9 C1107.3 462.9 1118.6 461.9 1126.3 460.6 C1134.1 459.2 1139.9 456.9 1145.0 454.7 C1150.0 452.6 1154.5 450.3 1156.6 447.7 C1158.8 445.2 1158.9 442.9 1157.8 439.6 C1156.6 436.3 1152.9 431.6 1149.6 428.0 C1146.3 424.3 1140.9 420.2 1138.0 417.5 C1135.1 414.8 1131.8 413.8 1132.2 411.6 C1132.6 409.5 1135.4 406.3 1140.4 404.6 C1145.4 403.0 1154.6 402.4 1162.1 401.5 C1169.6 400.6 1177.6 400.2 1185.4 399.2 C1193.2 398.2 1200.9 396.7 1208.7 395.3 C1216.5 393.9 1224.2 392.1 1232.0 390.7 C1239.8 389.2 1247.5 388.1 1255.3 386.8 C1263.0 385.5 1271.1 384.3 1278.6 382.9 C1286.0 381.5 1294.2 379.2 1300.0 378.2 C1305.8 377.3 1308.4 378.2 1313.2 377.1 C1318.0 376.0 1323.5 373.4 1328.7 371.7 C1333.9 370.0 1339.0 368.2 1344.2 367.0 C1349.4 365.9 1353.3 365.2 1359.8 364.7 C1366.2 364.2 1375.0 363.9 1383.0 363.9 C1391.1 363.9 1398.4 364.6 1407.9 364.7 C1417.4 364.8 1429.6 366.0 1440.0 364.7 C1450.4 363.4 1464.2 369.1 1470.0 356.7 C1475.8 344.3 1475.0 312.5 1475.0 290.3 C1475.0 268.2 1475.8 236.4 1470.0 224.0 C1464.2 211.6 1450.4 217.3 1440.0 216.0 C1429.6 214.6 1416.1 216.5 1407.9 216.0 Z" fill="#00a0ff"/>
<path d="M1224.9 452.4 C1225.3 449.4 1228.1 444.7 1233.0 441.5 C1238.0 438.4 1247.5 435.0 1254.8 433.4 C1262.0 431.8 1269.7 431.3 1276.5 432.0 C1283.3 432.7 1291.2 435.0 1295.5 437.4 C1299.8 439.9 1302.8 443.8 1302.3 447.0 C1301.9 450.1 1298.0 453.7 1292.8 456.5 C1287.6 459.2 1278.8 462.0 1271.1 463.3 C1263.4 464.5 1253.4 464.5 1246.6 463.8 C1239.8 463.1 1233.9 461.1 1230.3 459.2 C1226.7 457.3 1224.4 455.3 1224.9 452.4 Z" fill="#00a0ff"/>
<path d="M1407.9 231.2 C1398.4 230.2 1391.1 227.3 1383.0 225.3 C1375.0 223.3 1367.5 221.2 1359.8 219.1 C1352.0 217.0 1344.2 215.1 1336.5 212.9 C1328.7 210.7 1319.6 207.8 1313.2 205.9 C1306.7 203.9 1302.8 202.4 1297.6 201.2 C1292.5 200.1 1289.9 199.4 1282.1 198.9 C1274.3 198.4 1261.4 198.1 1251.1 198.1 C1240.7 198.1 1229.1 198.5 1220.0 198.9 C1210.9 199.3 1206.0 199.6 1196.2 200.2 C1186.4 200.9 1173.7 201.2 1161.3 202.6 C1148.9 203.9 1134.5 205.9 1121.7 208.4 C1108.9 210.9 1096.1 214.0 1084.4 217.7 C1072.8 221.4 1061.9 226.1 1051.8 230.5 C1041.7 235.0 1032.8 239.7 1023.9 244.5 C1014.9 249.4 1006.4 254.4 998.2 259.6 C990.1 264.9 981.0 271.2 974.9 275.9 C968.9 280.7 965.0 284.2 962.1 288.2 C959.2 292.2 957.9 296.5 957.5 299.8 C957.1 303.1 957.3 304.9 959.8 308.0 C962.3 311.1 967.0 314.8 972.6 318.5 C978.2 322.2 985.8 326.2 993.6 330.1 C1001.3 334.0 1010.7 338.1 1019.2 341.8 C1027.7 345.5 1036.3 349.0 1044.8 352.3 C1053.4 355.6 1061.9 358.5 1070.4 361.6 C1079.0 364.7 1087.5 368.0 1096.1 370.9 C1104.6 373.8 1113.5 376.7 1121.7 379.0 C1129.8 381.4 1137.2 383.4 1145.0 384.9 C1152.7 386.3 1160.5 387.3 1168.3 387.7 C1176.0 388.0 1183.8 387.4 1191.6 386.7 C1199.3 386.1 1205.5 385.1 1214.8 383.7 C1224.2 382.3 1238.7 380.1 1247.5 378.2 C1256.3 376.4 1261.2 374.6 1267.7 372.8 C1274.2 371.0 1281.0 368.9 1286.3 367.4 C1291.7 365.8 1295.5 364.6 1300.0 363.5 C1304.5 362.4 1308.4 362.3 1313.2 360.8 C1318.0 359.3 1323.5 356.6 1328.7 354.6 C1333.9 352.7 1339.0 350.3 1344.2 349.2 C1349.4 348.0 1353.3 347.6 1359.8 347.6 C1366.2 347.6 1375.0 348.7 1383.0 349.2 C1391.1 349.7 1398.4 350.5 1407.9 350.7 C1417.4 351.0 1429.6 352.1 1440.0 350.7 C1450.4 349.4 1464.2 352.7 1470.0 342.7 C1475.8 332.8 1475.0 308.2 1475.0 291.0 C1475.0 273.7 1475.8 249.2 1470.0 239.2 C1464.2 229.2 1450.4 232.5 1440.0 231.2 C1429.6 229.9 1417.4 232.2 1407.9 231.2 Z" fill="#00e0fb"/>
<path d="M1407.9 241.6 C1399.7 240.8 1396.2 238.4 1390.8 236.9 C1385.4 235.5 1381.7 234.7 1375.3 233.1 C1368.8 231.4 1359.8 228.9 1352.0 226.8 C1344.2 224.8 1336.5 222.7 1328.7 220.6 C1320.9 218.6 1313.2 216.0 1305.4 214.4 C1297.6 212.8 1291.2 211.8 1282.1 211.0 C1273.1 210.2 1261.4 209.6 1251.1 209.5 C1240.7 209.3 1233.0 208.3 1220.0 210.1 C1207.0 211.8 1186.6 217.4 1172.9 220.0 C1159.2 222.7 1149.6 223.3 1138.0 225.9 C1126.3 228.4 1114.3 231.5 1103.0 235.2 C1091.8 238.9 1080.5 243.5 1070.4 248.0 C1060.3 252.5 1051.0 257.3 1042.5 262.0 C1033.9 266.6 1025.8 271.7 1019.2 275.9 C1012.6 280.2 1006.8 285.2 1002.9 287.6 C999.0 290.0 997.5 288.9 995.9 290.5 C994.3 292.2 993.3 295.4 993.1 297.5 C992.9 299.7 992.3 300.8 994.7 303.3 C997.1 305.9 1001.9 309.4 1007.5 312.7 C1013.2 316.0 1021.1 319.6 1028.5 323.1 C1035.9 326.6 1044.0 330.1 1051.8 333.6 C1059.6 337.1 1067.3 340.6 1075.1 344.1 C1082.9 347.6 1090.6 351.1 1098.4 354.6 C1106.1 358.1 1113.9 362.0 1121.7 365.1 C1129.4 368.2 1137.2 371.3 1145.0 373.2 C1152.7 375.2 1160.5 376.1 1168.3 376.7 C1176.0 377.3 1183.8 377.1 1191.6 376.7 C1199.3 376.3 1205.3 375.9 1214.8 374.4 C1224.4 372.8 1240.3 369.6 1249.1 367.4 C1257.9 365.2 1262.0 363.1 1267.7 361.2 C1273.4 359.2 1277.8 357.4 1283.2 355.7 C1288.6 354.0 1295.0 353.1 1300.0 351.1 C1305.0 349.1 1308.9 345.9 1313.2 343.7 C1317.4 341.6 1320.9 339.7 1325.6 338.3 C1330.2 336.9 1335.4 335.6 1341.1 335.2 C1346.8 334.8 1352.8 335.5 1359.8 336.0 C1366.7 336.5 1375.0 337.7 1383.0 338.3 C1391.1 339.0 1398.4 339.6 1407.9 339.9 C1417.4 340.1 1429.6 341.2 1440.0 339.9 C1450.4 338.5 1464.2 340.0 1470.0 331.9 C1475.8 323.7 1475.0 304.4 1475.0 290.7 C1475.0 277.0 1475.8 257.8 1470.0 249.6 C1464.2 241.4 1450.4 242.9 1440.0 241.6 C1429.6 240.3 1416.1 242.4 1407.9 241.6 Z" fill="#30ffc7"/>
<path d="M1407.9 250.9 C1399.7 250.1 1396.2 247.7 1390.8 246.3 C1385.4 244.8 1381.7 244.1 1375.3 242.4 C1368.8 240.7 1359.8 238.2 1352.0 236.2 C1344.2 234.1 1336.5 231.9 1328.7 230.0 C1320.9 228.0 1313.2 226.1 1305.4 224.5 C1297.6 223.0 1291.2 221.6 1282.1 220.6 C1273.1 219.7 1261.4 219.0 1251.1 218.8 C1240.7 218.5 1235.2 218.3 1220.0 219.1 C1204.8 219.9 1174.8 222.0 1159.9 223.5 C1145.0 225.1 1138.5 226.6 1130.5 228.4 C1122.5 230.3 1117.1 232.6 1111.9 234.7 C1106.7 236.8 1103.5 238.5 1099.3 241.0 C1095.2 243.5 1090.3 246.5 1087.0 249.6 C1083.7 252.7 1080.5 256.5 1079.5 259.6 C1078.5 262.8 1078.9 265.6 1080.9 268.4 C1082.9 271.2 1086.9 274.2 1091.4 276.6 C1095.9 278.9 1101.9 280.8 1107.7 282.4 C1113.5 283.9 1120.1 284.9 1126.3 285.9 C1132.5 286.8 1139.1 287.0 1145.0 288.2 C1150.8 289.4 1157.6 291.3 1161.3 292.9 C1165.0 294.4 1167.5 296.0 1167.1 297.5 C1166.7 299.1 1162.6 301.1 1158.9 302.2 C1155.3 303.2 1149.6 303.2 1145.0 303.8 C1140.3 304.4 1136.0 304.2 1131.0 305.7 C1125.9 307.1 1119.7 310.3 1114.7 312.7 C1109.6 315.0 1104.4 317.1 1100.7 319.6 C1097.0 322.2 1093.7 325.5 1092.6 327.8 C1091.4 330.1 1092.0 331.1 1093.7 333.6 C1095.5 336.1 1099.2 339.8 1103.0 342.9 C1106.9 346.0 1111.6 349.1 1117.0 352.3 C1122.5 355.4 1128.7 358.9 1135.7 361.6 C1142.6 364.3 1150.8 367.0 1158.9 368.6 C1167.1 370.1 1176.0 370.9 1184.6 370.9 C1193.1 370.9 1199.4 371.5 1210.2 368.6 C1220.9 365.6 1240.3 357.2 1249.1 353.4 C1257.9 349.6 1258.9 348.2 1263.0 345.6 C1267.2 343.0 1270.8 340.3 1273.9 337.9 C1277.0 335.4 1278.8 333.0 1281.7 330.9 C1284.5 328.8 1287.9 326.9 1291.0 325.5 C1294.0 324.0 1295.8 323.0 1300.0 322.3 C1304.2 321.6 1310.2 321.3 1316.3 321.2 C1322.3 321.2 1329.2 321.4 1336.5 322.0 C1343.7 322.7 1352.0 324.1 1359.8 325.1 C1367.5 326.1 1375.0 327.4 1383.0 328.2 C1391.1 329.0 1398.4 329.5 1407.9 329.8 C1417.4 330.0 1429.6 331.1 1440.0 329.8 C1450.4 328.4 1464.2 328.3 1470.0 321.8 C1475.8 315.2 1475.0 300.8 1475.0 290.3 C1475.0 279.9 1475.8 265.5 1470.0 258.9 C1464.2 252.3 1450.4 252.2 1440.0 250.9 C1429.6 249.6 1416.1 251.7 1407.9 250.9 Z" fill="#63ff94"/>
<path d="M1407.9 260.2 C1399.7 259.3 1396.2 256.5 1390.8 254.8 C1385.4 253.1 1381.7 252.0 1375.3 250.1 C1368.8 248.3 1359.8 246.0 1352.0 243.9 C1344.2 241.9 1336.5 239.7 1328.7 237.7 C1320.9 235.8 1313.2 233.8 1305.4 232.3 C1297.6 230.8 1291.2 229.6 1282.1 228.7 C1273.1 227.8 1261.4 227.1 1251.1 226.8 C1240.7 226.6 1235.2 226.5 1220.0 227.2 C1204.8 227.8 1172.7 229.8 1159.9 231.0 C1147.0 232.1 1147.8 232.8 1142.9 234.0 C1138.0 235.3 1134.4 236.5 1130.5 238.4 C1126.6 240.4 1122.1 243.5 1119.3 245.9 C1116.6 248.3 1113.1 249.9 1114.2 252.7 C1115.4 255.4 1121.2 259.8 1126.3 262.6 C1131.5 265.4 1138.0 267.6 1145.0 269.6 C1152.0 271.5 1160.5 272.7 1168.3 274.2 C1176.0 275.8 1183.8 277.1 1191.6 278.9 C1199.3 280.6 1206.8 283.0 1214.8 284.7 C1222.9 286.5 1227.5 287.0 1240.0 289.4 C1252.5 291.7 1277.7 296.0 1289.9 298.7 C1302.1 301.4 1305.4 303.5 1313.2 305.7 C1320.9 307.9 1328.7 310.1 1336.5 311.9 C1344.2 313.7 1352.0 315.4 1359.8 316.6 C1367.5 317.7 1375.0 318.5 1383.0 318.9 C1391.1 319.3 1398.4 319.2 1407.9 319.2 C1417.4 319.3 1429.6 320.5 1440.0 319.2 C1450.4 317.9 1464.2 316.1 1470.0 311.2 C1475.8 306.3 1475.0 296.9 1475.0 289.7 C1475.0 282.6 1475.8 273.1 1470.0 268.2 C1464.2 263.3 1450.4 261.6 1440.0 260.2 C1429.6 258.9 1416.1 261.1 1407.9 260.2 Z" fill="#97ff60"/>
<path d="M1133.4 334.0 C1133.6 331.9 1136.9 329.6 1140.4 327.8 C1143.9 326.0 1148.9 324.7 1154.3 323.1 C1159.8 321.6 1166.5 319.8 1173.0 318.5 C1179.5 317.2 1186.7 316.0 1193.2 315.4 C1199.6 314.7 1205.8 314.2 1211.8 314.6 C1217.8 315.0 1224.2 316.4 1228.9 317.7 C1233.5 319.0 1236.8 320.5 1239.8 322.3 C1242.7 324.2 1246.2 326.0 1246.7 328.6 C1247.3 331.1 1245.3 335.0 1242.9 337.9 C1240.4 340.7 1236.1 343.3 1232.0 345.6 C1227.8 348.0 1223.2 350.3 1218.0 351.8 C1212.8 353.4 1206.9 354.4 1200.9 355.0 C1195.0 355.5 1188.3 355.5 1182.3 355.0 C1176.3 354.4 1170.7 353.3 1165.2 351.8 C1159.8 350.4 1154.1 348.4 1149.7 346.4 C1145.3 344.5 1141.5 342.3 1138.8 340.2 C1136.1 338.1 1133.1 336.1 1133.4 334.0 Z" fill="#97ff60"/>
<path d="M1182.3 344.1 C1182.8 342.8 1186.2 340.2 1188.5 339.4 C1190.8 338.6 1194.5 338.8 1196.3 339.4 C1198.1 340.1 1199.9 342.0 1199.4 343.3 C1198.9 344.6 1195.5 346.5 1193.2 347.2 C1190.8 347.8 1187.2 347.7 1185.4 347.2 C1183.6 346.7 1181.8 345.4 1182.3 344.1 Z" fill="#caff2c"/>
<path d="M1407.9 271.9 C1399.7 270.8 1396.2 267.6 1390.8 265.7 C1385.4 263.7 1381.7 262.3 1375.3 260.2 C1368.8 258.2 1359.8 255.4 1352.0 253.2 C1344.2 251.0 1336.5 249.0 1328.7 247.0 C1320.9 245.1 1313.2 243.0 1305.4 241.6 C1297.6 240.2 1291.2 239.1 1282.1 238.5 C1273.1 237.8 1261.4 237.6 1251.1 237.7 C1240.7 237.8 1229.9 238.1 1220.0 239.0 C1210.1 239.8 1199.0 241.0 1191.6 242.8 C1184.1 244.6 1178.7 247.6 1175.2 249.8 C1171.8 251.9 1171.1 254.2 1171.1 255.6 C1171.1 257.0 1171.1 257.2 1175.2 258.4 C1179.4 259.5 1188.8 261.3 1196.2 262.6 C1203.6 263.9 1213.0 264.9 1219.5 266.1 C1226.1 267.2 1229.0 268.1 1235.5 269.5 C1242.1 271.0 1251.1 272.7 1258.8 275.0 C1266.6 277.3 1274.3 280.8 1282.1 283.5 C1289.9 286.2 1297.6 289.0 1305.4 291.3 C1313.2 293.6 1320.9 295.7 1328.7 297.5 C1336.5 299.3 1344.2 300.9 1352.0 302.2 C1359.8 303.5 1368.8 304.6 1375.3 305.3 C1381.7 305.9 1385.4 306.0 1390.8 306.0 C1396.2 306.0 1399.7 305.4 1407.9 305.3 C1416.1 305.1 1429.6 306.6 1440.0 305.3 C1450.4 303.9 1464.2 300.0 1470.0 297.3 C1475.8 294.5 1475.0 291.5 1475.0 288.6 C1475.0 285.7 1475.8 282.7 1470.0 279.9 C1464.2 277.1 1450.4 273.2 1440.0 271.9 C1429.6 270.5 1416.1 272.9 1407.9 271.9 Z" fill="#caff2c"/>
<path d="M1285.2 261.8 C1284.4 260.1 1287.8 258.6 1289.9 257.1 C1291.9 255.7 1293.8 253.5 1297.6 252.9 C1301.5 252.4 1306.7 252.9 1313.2 254.0 C1319.6 255.1 1328.7 257.4 1336.5 259.5 C1344.2 261.5 1353.3 264.2 1359.8 266.4 C1366.2 268.6 1370.8 270.2 1375.3 272.7 C1379.8 275.1 1385.6 278.3 1386.9 281.2 C1388.2 284.0 1385.8 287.9 1383.0 289.7 C1380.3 291.5 1375.8 292.2 1370.6 292.1 C1365.4 291.9 1359.0 290.6 1352.0 289.0 C1345.0 287.3 1335.9 284.6 1328.7 282.0 C1321.4 279.4 1314.2 275.9 1308.5 273.4 C1302.8 271.0 1298.4 269.2 1294.5 267.2 C1290.7 265.3 1286.0 263.5 1285.2 261.8 Z" fill="#feed00"/>
<path d="M1186.8 102.3 L1205.9 101.5 L1224.9 102.6 L1205.9 103.4 Z" fill="#0020ff"/>
<use href="#coast"/>
</g>
<rect class="fr" x="78.4" y="0" width="1331.0" height="656.0"/>
<rect x="78.40" y="699.0" width="83.79" height="66.0" fill="#0000a4"/>
<rect x="161.59" y="699.0" width="83.79" height="66.0" fill="#0000ed"/>
<rect x="244.78" y="699.0" width="83.79" height="66.0" fill="#0020ff"/>
<rect x="327.96" y="699.0" width="83.79" height="66.0" fill="#0060ff"/>
<rect x="411.15" y="699.0" width="83.79" height="66.0" fill="#00a0ff"/>
<rect x="494.34" y="699.0" width="83.79" height="66.0" fill="#00e0fb"/>
<rect x="577.52" y="699.0" width="83.79" height="66.0" fill="#30ffc7"/>
<rect x="660.71" y="699.0" width="83.79" height="66.0" fill="#63ff94"/>
<rect x="743.90" y="699.0" width="83.79" height="66.0" fill="#97ff60"/>
<rect x="827.09" y="699.0" width="83.79" height="66.0" fill="#caff2c"/>
<rect x="910.27" y="699.0" width="83.79" height="66.0" fill="#feed00"/>
<rect x="993.46" y="699.0" width="83.79" height="66.0" fill="#ffb200"/>
<rect x="1076.65" y="699.0" width="83.79" height="66.0" fill="#ff7700"/>
<rect x="1159.84" y="699.0" width="83.79" height="66.0" fill="#ff3b00"/>
<rect x="1243.03" y="699.0" width="83.79" height="66.0" fill="#e80000"/>
<rect x="1326.21" y="699.0" width="83.19" height="66.0" fill="#9f0000"/>
<rect class="fr" x="78.4" y="699.0" width="1331.0" height="66.0"/>
<line class="tk" x1="78.4" y1="765.0" x2="78.4" y2="780.5"/>
<text transform="translate(66.10 826.50) scale(0.9875 1)" font-size="44.60" xml:space="preserve">0</text>
<line class="tk" x1="244.8" y1="765.0" x2="244.8" y2="780.5"/>
<text transform="translate(233.10 826.50) scale(0.9288 1)" font-size="44.60" xml:space="preserve">5</text>
<line class="tk" x1="411.1" y1="765.0" x2="411.1" y2="780.5"/>
<text transform="translate(385.80 826.50) scale(1.0262 1)" font-size="44.60" xml:space="preserve">10</text>
<line class="tk" x1="577.5" y1="765.0" x2="577.5" y2="780.5"/>
<text transform="translate(552.23 826.50) scale(1.0100 1)" font-size="44.60" xml:space="preserve">15</text>
<line class="tk" x1="743.9" y1="765.0" x2="743.9" y2="780.5"/>
<text transform="translate(718.11 826.50) scale(1.0354 1)" font-size="44.60" xml:space="preserve">20</text>
<line class="tk" x1="910.3" y1="765.0" x2="910.3" y2="780.5"/>
<text transform="translate(884.52 826.50) scale(1.0196 1)" font-size="44.60" xml:space="preserve">25</text>
<line class="tk" x1="1076.7" y1="765.0" x2="1076.7" y2="780.5"/>
<text transform="translate(1051.57 826.50) scale(1.0207 1)" font-size="44.60" xml:space="preserve">30</text>
<line class="tk" x1="1243.0" y1="765.0" x2="1243.0" y2="780.5"/>
<text transform="translate(1217.97 826.50) scale(1.0050 1)" font-size="44.60" xml:space="preserve">35</text>
<line class="tk" x1="1409.4" y1="765.0" x2="1409.4" y2="780.5"/>
<text transform="translate(1383.95 826.50) scale(1.0283 1)" font-size="44.60" xml:space="preserve">40</text>
<text transform="translate(131.89 -24.80) scale(1.0731 1)" font-size="53.00" xml:space="preserve">Ionosphere&#160;&#160;(h=450.0 km), 2020-04-24 05:00 UT</text>
</g>

<g transform="translate(0 2102.5)">
<g clip-path="url(#mc)">
<rect x="78.4" y="0" width="1331.0" height="656.0" fill="#0000df"/>
<path d="M78.4 170.4 C90.9 171.1 106.6 173.3 122.8 174.6 C139.0 176.0 158.0 177.3 175.6 178.3 C193.2 179.4 210.8 180.5 228.4 181.0 C246.0 181.5 263.6 181.4 281.2 181.5 C298.8 181.6 316.4 181.6 334.0 181.5 C351.6 181.4 369.2 181.7 386.8 181.0 C404.4 180.3 422.0 178.8 439.6 177.3 C457.2 175.8 474.8 173.8 492.4 172.0 C510.0 170.2 527.6 168.3 545.2 166.7 C562.8 165.1 580.4 163.6 598.0 162.5 C615.5 161.4 633.1 160.4 650.7 160.4 C668.3 160.4 687.0 161.0 703.5 162.5 C720.1 164.0 735.2 168.4 750.0 169.4 C764.9 170.3 776.9 169.2 792.8 168.3 C808.7 167.4 828.0 165.7 845.6 164.1 C863.2 162.5 880.8 160.3 898.4 158.8 C916.0 157.3 933.6 156.4 951.2 155.1 C968.8 153.8 986.4 152.1 1004.0 150.9 C1021.6 149.7 1039.2 148.3 1056.8 147.7 C1074.4 147.1 1092.0 146.9 1109.6 147.2 C1127.2 147.5 1144.8 148.0 1162.4 149.3 C1180.0 150.6 1197.6 153.1 1215.2 155.1 C1232.8 157.1 1250.4 159.7 1268.0 161.4 C1285.5 163.2 1303.1 164.8 1320.7 165.7 C1338.3 166.5 1358.8 166.5 1373.5 166.7 C1388.3 166.9 1398.4 166.7 1409.4 166.7 C1420.5 166.7 1429.9 165.1 1440.0 166.7 C1450.1 168.4 1465.0 127.8 1470.0 176.7 C1475.0 225.7 1475.0 411.4 1470.0 460.3 C1465.0 509.2 1450.1 468.6 1440.0 470.3 C1429.9 472.0 1417.9 471.6 1409.4 470.3 C1401.0 469.0 1397.1 465.0 1389.4 462.4 C1381.6 459.7 1374.4 456.9 1363.0 454.5 C1351.5 452.0 1336.6 449.5 1320.7 447.6 C1304.9 445.7 1285.5 444.2 1268.0 442.8 C1250.4 441.5 1232.8 440.6 1215.2 439.7 C1197.6 438.7 1180.0 438.4 1162.4 437.0 C1144.8 435.7 1127.2 433.1 1109.6 431.8 C1092.0 430.4 1072.6 428.6 1056.8 429.1 C1040.9 429.6 1027.7 432.9 1014.5 434.9 C1001.3 436.9 992.5 440.0 977.6 441.3 C962.6 442.5 939.7 441.9 924.8 442.3 C909.8 442.8 898.4 442.3 887.8 443.9 C877.3 445.5 870.2 448.3 861.4 451.8 C852.6 455.3 844.7 460.2 835.0 465.0 C825.4 469.9 813.9 476.5 803.4 480.9 C792.8 485.3 780.6 489.0 771.7 491.4 C762.8 493.8 757.0 493.8 750.0 495.1 C743.0 496.4 742.1 496.9 729.9 499.3 C717.8 501.8 694.7 506.8 677.1 509.9 C659.5 513.0 641.9 515.2 624.3 517.8 C606.7 520.5 589.2 522.7 571.6 525.7 C554.0 528.8 536.4 533.2 518.8 536.3 C501.2 539.4 483.6 542.6 466.0 544.2 C448.4 545.8 430.8 546.2 413.2 545.8 C395.6 545.4 378.0 543.6 360.4 541.6 C342.8 539.5 325.2 536.3 307.6 533.6 C290.0 531.0 272.4 528.8 254.8 525.7 C237.2 522.7 219.6 519.6 202.0 515.2 C184.4 510.8 164.2 504.2 149.2 499.3 C134.2 494.5 124.0 489.8 112.2 486.1 C100.4 482.4 89.2 478.7 78.4 477.2 C67.7 475.7 57.7 478.8 48.0 477.2 C38.3 475.5 24.7 516.6 20.0 467.2 C15.3 417.7 15.3 229.9 20.0 180.4 C24.7 131.0 38.3 172.1 48.0 170.4 C57.7 168.8 66.0 169.7 78.4 170.4 Z" fill="#0080ff"/>
<path d="M78.4 220.6 C90.9 220.8 106.6 221.5 122.8 222.2 C139.0 222.9 158.0 224.0 175.6 224.8 C193.2 225.6 210.8 226.3 228.4 226.9 C246.0 227.5 263.6 227.8 281.2 228.5 C298.8 229.2 316.4 229.8 334.0 231.1 C351.6 232.5 369.2 234.8 386.8 236.4 C404.4 238.0 422.0 239.7 439.6 240.6 C457.2 241.6 479.2 241.3 492.4 242.2 C505.6 243.1 510.0 243.5 518.8 245.9 C527.6 248.3 536.4 251.2 545.2 256.5 C554.0 261.8 562.8 270.6 571.6 277.6 C580.4 284.6 589.2 290.8 598.0 298.7 C606.7 306.6 617.3 316.3 624.3 325.1 C631.4 333.9 636.7 343.6 640.2 351.5 C643.7 359.4 645.5 363.8 645.5 372.6 C645.5 381.4 643.7 394.6 640.2 404.3 C636.7 414.0 631.4 423.2 624.3 430.7 C617.3 438.2 607.6 443.9 598.0 449.2 C588.3 454.5 577.7 458.4 566.3 462.4 C554.8 466.3 541.6 470.3 529.3 472.9 C517.0 475.6 507.3 476.8 492.4 478.2 C477.4 479.6 457.2 480.9 439.6 481.4 C422.0 481.8 404.4 481.2 386.8 480.9 C369.2 480.5 351.6 479.3 334.0 479.3 C316.4 479.3 298.8 480.3 281.2 480.9 C263.6 481.4 243.3 483.3 228.4 482.4 C213.4 481.6 202.9 478.5 191.4 475.6 C180.0 472.7 171.2 469.4 159.8 465.0 C148.3 460.6 136.3 454.0 122.8 449.2 C109.2 444.3 90.9 438.2 78.4 436.0 C66.0 433.8 57.7 437.3 48.0 436.0 C38.3 434.6 25.5 445.9 20.0 428.0 C14.5 410.0 15.0 361.5 15.0 328.3 C15.0 295.0 14.5 246.5 20.0 228.6 C25.5 210.6 38.3 221.9 48.0 220.6 C57.7 219.2 66.0 220.3 78.4 220.6 Z" fill="#36ffc1"/>
<path d="M1409.4 219.5 C1398.4 220.0 1388.3 221.3 1373.5 222.2 C1358.8 223.0 1338.3 225.2 1320.7 224.8 C1303.1 224.4 1285.5 222.2 1268.0 219.5 C1250.4 216.9 1232.8 212.5 1215.2 209.0 C1197.6 205.4 1180.0 201.2 1162.4 198.4 C1144.8 195.6 1127.2 193.2 1109.6 192.1 C1092.0 190.9 1074.4 190.7 1056.8 191.5 C1039.2 192.4 1019.8 195.3 1004.0 197.3 C988.1 199.4 975.8 201.3 961.7 203.7 C947.7 206.1 930.9 208.1 919.5 211.6 C908.1 215.1 898.8 219.1 893.1 224.8 C887.4 230.5 886.8 238.0 885.2 245.9 C883.6 253.8 884.9 264.0 883.6 272.3 C882.3 280.7 881.0 288.2 877.3 296.1 C873.6 304.0 866.7 312.3 861.4 319.8 C856.1 327.3 849.4 334.8 845.6 340.9 C841.8 347.1 839.2 352.8 838.7 356.8 C838.3 360.7 837.4 362.1 843.0 364.7 C848.5 367.3 861.0 370.2 872.0 372.6 C883.0 375.1 895.7 377.9 908.9 379.5 C922.1 381.1 938.9 382.4 951.2 382.1 C963.5 381.9 972.3 379.5 982.9 377.9 C993.4 376.3 1004.0 373.1 1014.5 372.6 C1025.1 372.2 1035.7 373.1 1046.2 375.3 C1056.8 377.5 1067.3 382.3 1077.9 385.8 C1088.4 389.3 1098.1 394.0 1109.6 396.4 C1121.0 398.8 1134.2 400.5 1146.5 400.1 C1158.8 399.6 1172.0 396.6 1183.5 393.7 C1194.9 390.9 1204.6 386.3 1215.2 383.2 C1225.7 380.1 1236.3 375.7 1246.8 375.3 C1257.4 374.8 1268.0 377.9 1278.5 380.5 C1289.1 383.2 1298.7 387.1 1310.2 391.1 C1321.6 395.1 1334.8 399.9 1347.1 404.3 C1359.5 408.7 1373.7 413.5 1384.1 417.5 C1394.5 421.5 1400.1 426.3 1409.4 428.1 C1418.8 429.8 1429.9 429.4 1440.0 428.1 C1450.1 426.7 1464.2 437.4 1470.0 420.1 C1475.8 402.7 1475.0 355.9 1475.0 323.8 C1475.0 291.7 1475.8 244.9 1470.0 227.5 C1464.2 210.1 1450.1 220.9 1440.0 219.5 C1429.9 218.2 1420.5 219.1 1409.4 219.5 Z" fill="#36ffc1"/>
<path d="M78.4 266.0 C90.9 265.3 106.6 262.6 122.8 261.8 C139.0 260.9 158.0 259.8 175.6 260.7 C193.2 261.6 210.8 263.8 228.4 267.0 C246.0 270.3 265.3 275.0 281.2 280.2 C297.0 285.5 310.2 292.1 323.4 298.7 C336.6 305.3 349.8 311.9 360.4 319.8 C370.9 327.7 381.3 339.2 386.8 346.2 C392.2 353.3 393.1 355.9 393.1 362.1 C393.1 368.2 391.3 376.6 386.8 383.2 C382.2 389.8 374.5 396.4 365.7 401.7 C356.9 406.9 346.3 410.7 334.0 414.9 C321.7 419.0 305.8 423.4 291.7 426.5 C277.7 429.6 261.8 432.6 249.5 433.3 C237.2 434.0 228.4 432.9 217.8 430.7 C207.3 428.5 196.7 424.1 186.1 420.1 C175.6 416.2 165.9 410.6 154.5 406.9 C143.0 403.2 130.2 400.6 117.5 398.0 C104.8 395.3 90.0 392.2 78.4 391.1 C66.9 390.0 57.7 392.4 48.0 391.1 C38.3 389.8 25.5 393.5 20.0 383.1 C14.5 372.7 15.0 346.7 15.0 328.5 C15.0 310.4 14.5 284.4 20.0 274.0 C25.5 263.6 38.3 267.3 48.0 266.0 C57.7 264.6 66.0 266.7 78.4 266.0 Z" fill="#c1ff36"/>
<path d="M1409.4 271.3 C1396.6 271.2 1379.5 271.9 1363.0 270.7 C1346.4 269.6 1327.8 266.8 1310.2 264.4 C1292.6 262.0 1275.0 258.4 1257.4 256.5 C1239.8 254.5 1221.3 253.2 1204.6 252.8 C1187.9 252.3 1171.2 252.8 1157.1 253.8 C1143.0 254.9 1130.7 256.5 1120.1 259.1 C1109.6 261.8 1100.8 265.3 1093.7 269.7 C1086.7 274.1 1081.2 279.8 1077.9 285.5 C1074.5 291.2 1073.7 297.8 1073.7 304.0 C1073.7 310.2 1074.5 316.3 1077.9 322.5 C1081.2 328.6 1086.7 335.7 1093.7 340.9 C1100.8 346.2 1110.4 351.1 1120.1 354.1 C1129.8 357.2 1141.2 359.0 1151.8 359.4 C1162.4 359.9 1172.9 358.1 1183.5 356.8 C1194.0 355.5 1204.6 353.3 1215.2 351.5 C1225.7 349.7 1236.3 346.7 1246.8 346.2 C1257.4 345.8 1268.0 347.5 1278.5 348.9 C1289.1 350.2 1299.6 353.0 1310.2 354.1 C1320.7 355.3 1331.3 354.0 1341.9 355.7 C1352.4 357.5 1364.7 361.7 1373.5 364.7 C1382.3 367.7 1388.7 370.8 1394.7 373.7 C1400.6 376.6 1401.9 380.7 1409.4 382.1 C1417.0 383.5 1429.9 383.5 1440.0 382.1 C1450.1 380.8 1464.2 383.4 1470.0 374.1 C1475.8 364.9 1475.0 342.5 1475.0 326.7 C1475.0 310.9 1475.8 288.5 1470.0 279.3 C1464.2 270.0 1450.1 272.6 1440.0 271.3 C1429.9 269.9 1422.3 271.3 1409.4 271.3 Z" fill="#c1ff36"/>
<path d="M150.2 318.2 L171.9 318.2 L177.2 325.6 L173.5 329.3 L150.2 329.3 L147.6 325.6 Z" fill="#ff9400"/>
<use href="#coast"/>
</g>
<rect class="fr" x="78.4" y="0" width="1331.0" height="656.0"/>
<rect x="78.40" y="699.0" width="222.43" height="66.0" fill="#0000df"/>
<rect x="300.23" y="699.0" width="222.43" height="66.0" fill="#0080ff"/>
<rect x="522.07" y="699.0" width="222.43" height="66.0" fill="#36ffc1"/>
<rect x="743.90" y="699.0" width="222.43" height="66.0" fill="#c1ff36"/>
<rect x="965.73" y="699.0" width="222.43" height="66.0" fill="#ff9400"/>
<rect x="1187.57" y="699.0" width="221.83" height="66.0" fill="#df0000"/>
<rect class="fr" x="78.4" y="699.0" width="1331.0" height="66.0"/>
<line class="tk" x1="78.4" y1="765.0" x2="78.4" y2="780.5"/>
<text transform="translate(46.13 826.50) scale(1.0383 1)" font-size="44.60" xml:space="preserve">0.0</text>
<line class="tk" x1="300.2" y1="765.0" x2="300.2" y2="780.5"/>
<text transform="translate(267.84 826.50) scale(1.0286 1)" font-size="44.60" xml:space="preserve">2.5</text>
<line class="tk" x1="522.1" y1="765.0" x2="522.1" y2="780.5"/>
<text transform="translate(490.33 826.50) scale(1.0294 1)" font-size="44.60" xml:space="preserve">5.0</text>
<line class="tk" x1="743.9" y1="765.0" x2="743.9" y2="780.5"/>
<text transform="translate(711.82 826.50) scale(1.0233 1)" font-size="44.60" xml:space="preserve">7.5</text>
<line class="tk" x1="965.7" y1="765.0" x2="965.7" y2="780.5"/>
<text transform="translate(920.45 826.50) scale(1.0450 1)" font-size="44.60" xml:space="preserve">10.0</text>
<line class="tk" x1="1187.6" y1="765.0" x2="1187.6" y2="780.5"/>
<text transform="translate(1142.38 826.50) scale(1.0347 1)" font-size="44.60" xml:space="preserve">12.5</text>
<line class="tk" x1="1409.4" y1="765.0" x2="1409.4" y2="780.5"/>
<text transform="translate(1364.11 826.50) scale(1.0450 1)" font-size="44.60" xml:space="preserve">15.0</text>
<text transform="translate(88.17 -24.80) scale(1.0676 1)" font-size="53.00" xml:space="preserve">Plasmasphere (h=1500.0 km), 2020-04-24 05:00 UT</text>
</g>

</svg></body></html>
